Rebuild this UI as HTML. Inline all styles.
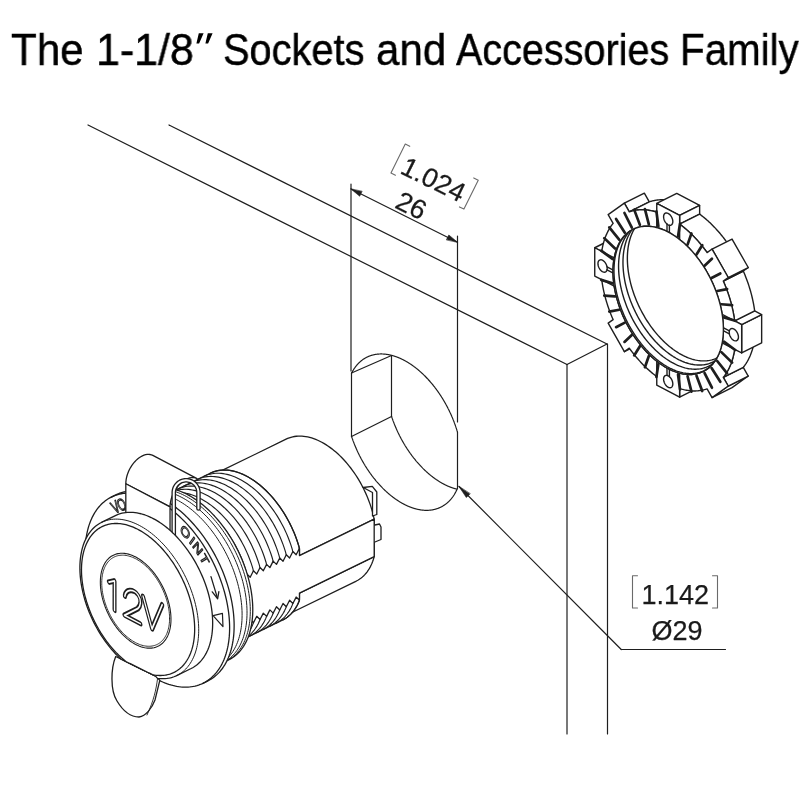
<!DOCTYPE html>
<html><head><meta charset="utf-8"><style>
html,body{margin:0;padding:0;background:#fff;width:800px;height:800px;overflow:hidden}
.tw{position:absolute;top:28px;font-family:"Liberation Sans",sans-serif;font-size:44px;line-height:1;white-space:nowrap;color:#000;-webkit-text-stroke:0.45px #000;transform-origin:0 0;will-change:transform}
svg{position:absolute;left:0;top:0;will-change:transform}
.dim{position:absolute;font-family:"Liberation Sans",sans-serif;color:#1a1a1a;white-space:nowrap;line-height:1}
</style></head><body>
<div class="tw" style="left:11.04px;transform:scaleX(0.958)">The</div><div class="tw" style="left:95.82px;transform:scaleX(0.976)">1-1/8</div><div class="tw" style="left:223.19px;transform:scaleX(0.9046)">Sockets</div><div class="tw" style="left:375.59px;transform:scaleX(0.956)">and</div><div class="tw" style="left:456.25px;transform:scaleX(0.899)">Accessories</div><div class="tw" style="left:680.08px;transform:scaleX(0.917)">Family</div>
<svg width="800" height="800" viewBox="0 0 800 800" stroke-linecap="round" stroke-linejoin="round">
<line x1="88" y1="125" x2="567" y2="364.5" stroke="#1e1e1e" stroke-width="1.2"/>
<line x1="169" y1="125" x2="607" y2="344" stroke="#1e1e1e" stroke-width="1.2"/>
<line x1="567" y1="364.5" x2="607" y2="344" stroke="#1e1e1e" stroke-width="1.2"/>
<line x1="567" y1="364.5" x2="567" y2="734" stroke="#1e1e1e" stroke-width="1.2"/>
<line x1="607.5" y1="344" x2="607.5" y2="734" stroke="#1e1e1e" stroke-width="1.2"/>
<path d="M457.44,488.34 L457.34,488.58 L457.24,488.82 L457.14,489.05 L457.03,489.28 L456.93,489.52 L456.83,489.75 L456.72,489.98 L456.61,490.21 L456.5,490.44 L456.4,490.66 L456.29,490.89 L456.17,491.11 L456.06,491.34 L455.95,491.56 L455.84,491.78 L455.72,492 L455.6,492.22 L455.49,492.44 L455.37,492.65 L455.25,492.87 L455.13,493.09 L455.01,493.3 L454.89,493.51 L454.77,493.72 L454.64,493.93 L454.52,494.14 L454.39,494.35 L454.26,494.55 L454.14,494.76 L454.01,494.96 L453.88,495.17 L453.75,495.37 L453.62,495.57 L453.48,495.77 L453.35,495.96 L453.22,496.16 L453.08,496.36 L452.95,496.55 L452.81,496.74 L452.67,496.94 L452.53,497.13 L452.39,497.31 L452.25,497.5 L452.11,497.69 L451.97,497.88 L451.82,498.06 L451.68,498.24 L451.53,498.42 L451.39,498.6 L451.24,498.78 L451.09,498.96 L450.94,499.14 L450.79,499.31 L450.64,499.49 L450.49,499.66 L450.34,499.83 L450.18,500 L450.03,500.17 L449.87,500.34 L449.72,500.51 L449.56,500.67 L449.4,500.83 L449.24,501 L449.08,501.16 L448.92,501.32 L448.76,501.48 L448.6,501.63 L448.44,501.79 L448.27,501.94 L448.11,502.1 L447.94,502.25 L447.78,502.4 L447.61,502.55 L447.44,502.7 L447.27,502.84 L447.1,502.99 L446.93,503.13 L446.76,503.27 L446.59,503.42 L446.42,503.56 L446.24,503.69 L446.07,503.83 L445.89,503.97 L445.72,504.1 L445.54,504.23 L445.36,504.37 L445.18,504.5 L445,504.62 L444.82,504.75 L444.64,504.88 L444.46,505 L444.28,505.13 L444.09,505.25 L443.91,505.37 L443.73,505.49 L443.54,505.6 L443.35,505.72 L443.17,505.84 L442.98,505.95 L442.79,506.06 L442.6,506.17 L442.41,506.28 L442.22,506.39 L442.03,506.5 L441.84,506.6 L441.64,506.7 L441.45,506.81 L441.26,506.91 L441.06,507.01 L440.86,507.1 L440.67,507.2 L440.47,507.3 L440.27,507.39 L440.07,507.48 L439.87,507.57 L439.67,507.66 L439.47,507.75 L439.27,507.84 L439.07,507.92 L438.87,508 L438.66,508.09 L438.46,508.17 L438.26,508.25 L438.05,508.32 L437.84,508.4 L437.64,508.47 L437.43,508.55 L437.22,508.62 L437.01,508.69 L436.8,508.76 L436.59,508.83 L436.38,508.89 L436.17,508.96 L435.96,509.02 L435.75,509.08 L435.54,509.14 L435.32,509.2 L435.11,509.26 L434.89,509.31 L434.68,509.37 L434.46,509.42 L434.25,509.47 L434.03,509.52 L433.81,509.57 L433.59,509.62 L433.37,509.66 L433.15,509.71 L432.93,509.75 L432.71,509.79 L432.49,509.83 L432.27,509.87 L432.05,509.9 L431.83,509.94 L431.6,509.97 L431.38,510.01 L431.16,510.04 L430.93,510.06 L430.71,510.09 L430.48,510.12 L430.25,510.14 L430.03,510.17 L429.8,510.19 L429.57,510.21 L429.34,510.23 L429.12,510.24 L428.89,510.26 L428.66,510.27 L428.43,510.29 L428.2,510.3 L427.96,510.31 L427.73,510.32 L427.5,510.32 L427.27,510.33 L427.04,510.33 L426.8,510.34 L426.57,510.34 L426.33,510.34 L426.1,510.33 L425.86,510.33 L425.63,510.32 L425.39,510.32 L425.16,510.31 L424.92,510.3 L424.68,510.29 L424.45,510.28 L424.21,510.26 L423.97,510.25 L423.73,510.23 L423.49,510.21 L423.25,510.19 L423.01,510.17 L422.77,510.15 L422.53,510.12 L422.29,510.1 L422.05,510.07 L421.81,510.04 L421.57,510.01 L421.32,509.98 L421.08,509.95 L420.84,509.91 L420.59,509.87 L420.35,509.84 L420.11,509.8 L419.86,509.76 L419.62,509.71 L419.37,509.67 L419.13,509.63 L418.88,509.58 L418.64,509.53 L418.39,509.48 L418.15,509.43 L417.9,509.38 L417.65,509.32 L417.4,509.27 L417.16,509.21 L416.91,509.15 L416.66,509.09 L416.41,509.03 L416.17,508.97 L415.92,508.9 L415.67,508.84 L415.42,508.77 L415.17,508.7 L414.92,508.63 L414.67,508.56 L414.42,508.49 L414.17,508.41 L413.92,508.34 L413.67,508.26 L413.42,508.18 L413.17,508.1 L412.92,508.02 L412.67,507.93 L412.42,507.85 L412.16,507.76 L411.91,507.68 L411.66,507.59 L411.41,507.5 L411.16,507.4 L410.91,507.31 L410.65,507.22 L410.4,507.12 L410.15,507.02 L409.89,506.92 L409.64,506.82 L409.39,506.72 L409.14,506.62 L408.88,506.51 L408.63,506.41 L408.38,506.3 L408.12,506.19 L407.87,506.08 L407.62,505.97 L407.36,505.86 L407.11,505.74 L406.85,505.62 L406.6,505.51 L406.35,505.39 L406.09,505.27 L405.84,505.15 L405.59,505.02 L405.33,504.9 L405.08,504.77 L404.82,504.65 L404.57,504.52 L404.31,504.39 L404.06,504.26 L403.81,504.12 L403.55,503.99 L403.3,503.85 L403.04,503.72 L402.79,503.58 L402.54,503.44 L402.28,503.3 L402.03,503.16 L401.77,503.01 L401.52,502.87 L401.27,502.72 L401.01,502.57 L400.76,502.43 L400.5,502.28 L400.25,502.12 L400,501.97 L399.74,501.82 L399.49,501.66 L399.24,501.5 L398.98,501.35 L398.73,501.19 L398.48,501.02 L398.22,500.86 L397.97,500.7 L397.72,500.53 L397.47,500.37 L397.21,500.2 L396.96,500.03 L396.71,499.86 L396.46,499.69 L396.2,499.52 L395.95,499.34 L395.7,499.17 L395.45,498.99 L395.2,498.81 L394.95,498.64 L394.7,498.46 L394.45,498.27 L394.19,498.09 L393.94,497.91 L393.69,497.72 L393.44,497.53 L393.19,497.35 L392.94,497.16 L392.69,496.97 L392.45,496.78 L392.2,496.58 L391.95,496.39 L391.7,496.19 L391.45,496 L391.2,495.8 L390.95,495.6 L390.71,495.4 L390.46,495.2 L390.21,495 L389.96,494.79 L389.72,494.59 L389.47,494.38 L389.23,494.18 L388.98,493.97 L388.73,493.76 L388.49,493.55 L388.24,493.33 L388,493.12 L387.76,492.91 L387.51,492.69 L387.27,492.48 L387.02,492.26 L386.78,492.04 L386.54,491.82 L386.3,491.6 L386.05,491.37 L385.81,491.15 L385.57,490.93 L385.33,490.7 L385.09,490.47 L384.85,490.25 L384.61,490.02 L384.37,489.79 L384.13,489.56 L383.89,489.32 L383.65,489.09 L383.41,488.86 L383.18,488.62 L382.94,488.38 L382.7,488.15 L382.47,487.91 L382.23,487.67 L381.99,487.43 L381.76,487.18 L381.52,486.94 L381.29,486.7 L381.05,486.45 L380.82,486.21 L380.59,485.96 L380.36,485.71 L380.12,485.46 L379.89,485.21 L379.66,484.96 L379.43,484.71 L379.2,484.45 L378.97,484.2 L378.74,483.95 L378.51,483.69 L378.28,483.43 L378.05,483.17 L377.83,482.91 L377.6,482.65 L377.37,482.39 L377.15,482.13 L376.92,481.87 L376.7,481.6 L376.47,481.34 L376.25,481.07 L376.02,480.81 L375.8,480.54 L375.58,480.27 L375.36,480 L375.14,479.73 L374.92,479.46 L374.7,479.19 L374.48,478.91 L374.26,478.64 L374.04,478.36 L373.82,478.09 L373.6,477.81 L373.39,477.53 L373.17,477.26 L372.95,476.98 L372.74,476.7 L372.52,476.42 L372.31,476.13 L372.1,475.85 L371.88,475.57 L371.67,475.28 L371.46,475 L371.25,474.71 L371.04,474.43 L370.83,474.14 L370.62,473.85 L370.41,473.56 L370.21,473.27 L370,472.98 L369.79,472.69 L369.59,472.4 L369.38,472.1 L369.18,471.81 L368.97,471.51 L368.77,471.22 L368.57,470.92 L368.37,470.63 L368.17,470.33 L367.97,470.03 L367.77,469.73 L367.57,469.43 L367.37,469.13 L367.17,468.83 L366.97,468.53 L366.78,468.23 L366.58,467.92 L366.39,467.62 L366.19,467.31 L366,467.01 L365.81,466.7 L365.62,466.4 L365.42,466.09 L365.23,465.78 L365.04,465.47 L364.86,465.16 L364.67,464.85 L364.48,464.54 L364.29,464.23 L364.11,463.92 L363.92,463.61 L363.74,463.3 L363.55,462.98 L363.37,462.67 L363.19,462.35 L363.01,462.04 L362.83,461.72 L362.65,461.41 L362.47,461.09 L362.29,460.77 L362.11,460.45 L361.94,460.14 L361.76,459.82 L361.58,459.5 L361.41,459.18 L361.24,458.86 L361.06,458.54 L360.89,458.21 L360.72,457.89 L360.55,457.57 L360.38,457.25 L360.21,456.92 L360.05,456.6 L359.88,456.27 L359.71,455.95 L359.55,455.62 L359.38,455.3 L359.22,454.97 L359.06,454.64 L358.9,454.32 L358.74,453.99 L358.58,453.66 L358.42,453.33 L358.26,453 L358.1,452.68 L357.94,452.35 L357.79,452.02 L357.63,451.69 L357.48,451.35 L357.33,451.02 L357.17,450.69 L357.02,450.36 L356.87,450.03 L356.72,449.7 L356.57,449.36 L356.43,449.03 L356.28,448.7 L356.13,448.36 L355.99,448.03 L355.85,447.69 L355.7,447.36 L355.56,447.02 L355.42,446.69 L355.28,446.35 L355.14,446.02 L355,445.68 L354.86,445.34 L354.73,445.01 L354.59,444.67 L354.46,444.33 L354.32,444 L354.19,443.66 L354.06,443.32 L353.93,442.98 L353.8,442.65 L353.67,442.31 L353.54,441.97 L353.41,441.63 L353.29,441.29 L353.16,440.95 L353.04,440.61 L352.91,440.27 L352.79,439.93 L352.67,439.59 L352.55,439.25 L352.43,438.91 L352.31,438.57 L352.19,438.23 L352.08,437.89 L351.96,437.55 L351.85,437.21 L351.73,436.87 L351.62,436.53 L351.51,436.19" fill="none" stroke="#1e1e1e" stroke-width="1.2" />
<path d="M351.51,373.3 L351.62,373.07 L351.73,372.85 L351.85,372.63 L351.96,372.41 L352.08,372.19 L352.19,371.97 L352.31,371.75 L352.43,371.54 L352.55,371.32 L352.67,371.11 L352.79,370.9 L352.91,370.68 L353.04,370.47 L353.16,370.26 L353.29,370.06 L353.41,369.85 L353.54,369.64 L353.67,369.44 L353.8,369.24 L353.93,369.03 L354.06,368.83 L354.19,368.63 L354.32,368.43 L354.46,368.24 L354.59,368.04 L354.73,367.85 L354.86,367.65 L355,367.46 L355.14,367.27 L355.28,367.08 L355.42,366.89 L355.56,366.7 L355.7,366.52 L355.85,366.33 L355.99,366.15 L356.13,365.97 L356.28,365.79 L356.43,365.61 L356.57,365.43 L356.72,365.25 L356.87,365.07 L357.02,364.9 L357.17,364.73 L357.33,364.55 L357.48,364.38 L357.63,364.21 L357.79,364.04 L357.94,363.88 L358.1,363.71 L358.26,363.55 L358.42,363.38 L358.58,363.22 L358.74,363.06 L358.9,362.9 L359.06,362.74 L359.22,362.59 L359.38,362.43 L359.55,362.28 L359.71,362.13 L359.88,361.98 L360.05,361.83 L360.21,361.68 L360.38,361.53 L360.55,361.38 L360.72,361.24 L360.89,361.1 L361.06,360.95 L361.24,360.81 L361.41,360.68 L361.58,360.54 L361.76,360.4 L361.94,360.27 L362.11,360.13 L362.29,360 L362.47,359.87 L362.65,359.74 L362.83,359.61 L363.01,359.49 L363.19,359.36 L363.37,359.24 L363.55,359.11 L363.74,358.99 L363.92,358.87 L364.11,358.75 L364.29,358.64 L364.48,358.52 L364.67,358.41 L364.86,358.29 L365.04,358.18 L365.23,358.07 L365.42,357.96 L365.62,357.86 L365.81,357.75 L366,357.65 L366.19,357.54 L366.39,357.44 L366.58,357.34 L366.78,357.24 L366.97,357.15 L367.17,357.05 L367.37,356.96 L367.57,356.86 L367.77,356.77 L367.97,356.68 L368.17,356.59 L368.37,356.51 L368.57,356.42 L368.77,356.34 L368.97,356.26 L369.18,356.17 L369.38,356.09 L369.59,356.02 L369.79,355.94 L370,355.86 L370.21,355.79 L370.41,355.72 L370.62,355.65 L370.83,355.58 L371.04,355.51 L371.25,355.44 L371.46,355.38 L371.67,355.31 L371.88,355.25 L372.1,355.19 L372.31,355.13 L372.52,355.07 L372.74,355.01 L372.95,354.96 L373.17,354.91 L373.39,354.85 L373.6,354.8 L373.82,354.75 L374.04,354.71 L374.26,354.66 L374.48,354.62 L374.7,354.57 L374.92,354.53 L375.14,354.49 L375.36,354.45 L375.58,354.41 L375.8,354.38 L376.02,354.34 L376.25,354.31 L376.47,354.28 L376.7,354.25 L376.92,354.22 L377.15,354.19 L377.37,354.17 L377.6,354.14 L377.83,354.12 L378.05,354.1 L378.28,354.08 L378.51,354.06 L378.74,354.05 L378.97,354.03 L379.2,354.02 L379.43,354.01 L379.66,354 L379.89,353.99 L380.12,353.98 L380.36,353.97 L380.59,353.97 L380.82,353.97 L381.05,353.96 L381.29,353.96 L381.52,353.97 L381.76,353.97 L381.99,353.97 L382.23,353.98 L382.47,353.99 L382.7,353.99 L382.94,354 L383.18,354.02 L383.41,354.03 L383.65,354.04 L383.89,354.06 L384.13,354.08 L384.37,354.1 L384.61,354.12 L384.85,354.14 L385.09,354.16 L385.33,354.19 L385.57,354.22 L385.81,354.24 L386.05,354.27 L386.3,354.31 L386.54,354.34 L386.78,354.37 L387.02,354.41 L387.27,354.44 L387.51,354.48 L387.76,354.52 L388,354.56 L388.24,354.61 L388.49,354.65 L388.73,354.7 L388.98,354.75 L389.23,354.79 L389.47,354.84 L389.72,354.9 L389.96,354.95 L390.21,355 L390.46,355.06 L390.71,355.12 L390.95,355.18 L391.2,355.24 L391.45,355.3 L391.7,355.36 L391.95,355.43 L392.2,355.5 L392.45,355.56 L392.69,355.63 L392.94,355.7 L393.19,355.78 L393.44,355.85 L393.69,355.93 L393.94,356 L394.19,356.08 L394.45,356.16 L394.7,356.24 L394.95,356.32 L395.2,356.41 L395.45,356.49 L395.7,356.58 L395.95,356.67 L396.2,356.76 L396.46,356.85 L396.71,356.94 L396.96,357.04 L397.21,357.13 L397.47,357.23 L397.72,357.33 L397.97,357.43 L398.22,357.53 L398.48,357.63 L398.73,357.73 L398.98,357.84 L399.24,357.95 L399.49,358.05 L399.74,358.16 L400,358.28 L400.25,358.39 L400.5,358.5 L400.76,358.62 L401.01,358.73 L401.27,358.85 L401.52,358.97 L401.77,359.09 L402.03,359.21 L402.28,359.34 L402.54,359.46 L402.79,359.59 L403.04,359.72 L403.3,359.85 L403.55,359.98 L403.81,360.11 L404.06,360.24 L404.31,360.38 L404.57,360.51 L404.82,360.65 L405.08,360.79 L405.33,360.93 L405.59,361.07 L405.84,361.21 L406.09,361.36 L406.35,361.5 L406.6,361.65 L406.85,361.8 L407.11,361.95 L407.36,362.1 L407.62,362.25 L407.87,362.41 L408.12,362.56 L408.38,362.72 L408.63,362.88 L408.88,363.03 L409.14,363.19 L409.39,363.36 L409.64,363.52 L409.89,363.68 L410.15,363.85 L410.4,364.02 L410.65,364.18 L410.91,364.35 L411.16,364.52 L411.41,364.7 L411.66,364.87 L411.91,365.04 L412.16,365.22 L412.42,365.4 L412.67,365.57 L412.92,365.75 L413.17,365.94 L413.42,366.12 L413.67,366.3 L413.92,366.49 L414.17,366.67 L414.42,366.86 L414.67,367.05 L414.92,367.24 L415.17,367.43 L415.42,367.62 L415.67,367.81 L415.92,368.01 L416.17,368.2 L416.41,368.4 L416.66,368.6 L416.91,368.8 L417.16,369 L417.4,369.2 L417.65,369.4 L417.9,369.61 L418.15,369.81 L418.39,370.02 L418.64,370.23 L418.88,370.44 L419.13,370.65 L419.37,370.86 L419.62,371.07 L419.86,371.29 L420.11,371.5 L420.35,371.72 L420.59,371.93 L420.84,372.15 L421.08,372.37 L421.32,372.59 L421.57,372.81 L421.81,373.04 L422.05,373.26 L422.29,373.49 L422.53,373.71 L422.77,373.94 L423.01,374.17 L423.25,374.4 L423.49,374.63 L423.73,374.86 L423.97,375.09 L424.21,375.33 L424.45,375.56 L424.68,375.8 L424.92,376.03 L425.16,376.27 L425.39,376.51 L425.63,376.75 L425.86,376.99 L426.1,377.24 L426.33,377.48 L426.57,377.73 L426.8,377.97 L427.04,378.22 L427.27,378.46 L427.5,378.71 L427.73,378.96 L427.96,379.21 L428.2,379.47 L428.43,379.72 L428.66,379.97 L428.89,380.23 L429.12,380.48 L429.34,380.74 L429.57,381 L429.8,381.26 L430.03,381.52 L430.25,381.78 L430.48,382.04 L430.71,382.3 L430.93,382.56 L431.16,382.83 L431.38,383.09 L431.6,383.36 L431.83,383.63 L432.05,383.9 L432.27,384.16 L432.49,384.43 L432.71,384.71 L432.93,384.98 L433.15,385.25 L433.37,385.52 L433.59,385.8 L433.81,386.07 L434.03,386.35 L434.25,386.63 L434.46,386.9 L434.68,387.18 L434.89,387.46 L435.11,387.74 L435.32,388.02 L435.54,388.31 L435.75,388.59 L435.96,388.87 L436.17,389.16 L436.38,389.44 L436.59,389.73 L436.8,390.02 L437.01,390.31 L437.22,390.59 L437.43,390.88 L437.64,391.17 L437.84,391.47 L438.05,391.76 L438.26,392.05 L438.46,392.34 L438.66,392.64 L438.87,392.93 L439.07,393.23 L439.27,393.53 L439.47,393.82 L439.67,394.12 L439.87,394.42 L440.07,394.72 L440.27,395.02 L440.47,395.32 L440.67,395.62 L440.86,395.92 L441.06,396.23 L441.26,396.53 L441.45,396.83 L441.64,397.14 L441.84,397.44 L442.03,397.75 L442.22,398.06 L442.41,398.36 L442.6,398.67 L442.79,398.98 L442.98,399.29 L443.17,399.6 L443.35,399.91 L443.54,400.22 L443.73,400.54 L443.91,400.85 L444.09,401.16 L444.28,401.47 L444.46,401.79 L444.64,402.1 L444.82,402.42 L445,402.74 L445.18,403.05 L445.36,403.37 L445.54,403.69 L445.72,404.01 L445.89,404.32 L446.07,404.64 L446.24,404.96 L446.42,405.28 L446.59,405.6 L446.76,405.93 L446.93,406.25 L447.1,406.57 L447.27,406.89 L447.44,407.22 L447.61,407.54 L447.78,407.86 L447.94,408.19 L448.11,408.51 L448.27,408.84 L448.44,409.17 L448.6,409.49 L448.76,409.82 L448.92,410.15 L449.08,410.47 L449.24,410.8 L449.4,411.13 L449.56,411.46 L449.72,411.79 L449.87,412.12 L450.03,412.45 L450.18,412.78 L450.34,413.11 L450.49,413.44 L450.64,413.77 L450.79,414.11 L450.94,414.44 L451.09,414.77 L451.24,415.1 L451.39,415.44 L451.53,415.77 L451.68,416.11 L451.82,416.44 L451.97,416.77 L452.11,417.11 L452.25,417.44 L452.39,417.78 L452.53,418.12 L452.67,418.45 L452.81,418.79 L452.95,419.12 L453.08,419.46 L453.22,419.8 L453.35,420.13 L453.48,420.47 L453.62,420.81 L453.75,421.15 L453.88,421.49 L454.01,421.82 L454.14,422.16 L454.26,422.5 L454.39,422.84 L454.52,423.18 L454.64,423.52 L454.77,423.86 L454.89,424.2 L455.01,424.54 L455.13,424.88 L455.25,425.22 L455.37,425.56 L455.49,425.9 L455.6,426.24 L455.72,426.58 L455.84,426.92 L455.95,427.26 L456.06,427.6 L456.17,427.94 L456.29,428.28 L456.4,428.62 L456.5,428.96 L456.61,429.31 L456.72,429.65 L456.83,429.99 L456.93,430.33 L457.03,430.67 L457.14,431.01 L457.24,431.35 L457.34,431.69 L457.44,432.04" fill="none" stroke="#1e1e1e" stroke-width="1.2" />
<line x1="351.5" y1="373.07" x2="351.5" y2="436.53" stroke="#1e1e1e" stroke-width="1.2"/>
<line x1="457.5" y1="432.04" x2="457.5" y2="488.34" stroke="#1e1e1e" stroke-width="1.2"/>
<line x1="391.5" y1="355.57" x2="391.5" y2="416.53" stroke="#1e1e1e" stroke-width="1.2"/>
<line x1="351.5" y1="373.07" x2="391.5" y2="355.57" stroke="#1e1e1e" stroke-width="1.2"/>
<line x1="351.5" y1="436.53" x2="391.5" y2="416.53" stroke="#1e1e1e" stroke-width="1.2"/>
<path d="M391.51,416.19 L391.62,416.53 L391.73,416.87 L391.85,417.21 L391.96,417.55 L392.08,417.89 L392.19,418.23 L392.31,418.57 L392.43,418.91 L392.55,419.25 L392.67,419.59 L392.79,419.93 L392.91,420.27 L393.04,420.61 L393.16,420.95 L393.29,421.29 L393.41,421.63 L393.54,421.97 L393.67,422.31 L393.8,422.65 L393.93,422.98 L394.06,423.32 L394.19,423.66 L394.32,424 L394.46,424.33 L394.59,424.67 L394.73,425.01 L394.86,425.34 L395,425.68 L395.14,426.02 L395.28,426.35 L395.42,426.69 L395.56,427.02 L395.7,427.36 L395.85,427.69 L395.99,428.03 L396.13,428.36 L396.28,428.7 L396.43,429.03 L396.57,429.36 L396.72,429.7 L396.87,430.03 L397.02,430.36 L397.17,430.69 L397.33,431.02 L397.48,431.35 L397.63,431.69 L397.79,432.02 L397.94,432.35 L398.1,432.68 L398.26,433 L398.42,433.33 L398.58,433.66 L398.74,433.99 L398.9,434.32 L399.06,434.64 L399.22,434.97 L399.38,435.3 L399.55,435.62 L399.71,435.95 L399.88,436.27 L400.05,436.6 L400.21,436.92 L400.38,437.25 L400.55,437.57 L400.72,437.89 L400.89,438.21 L401.06,438.54 L401.24,438.86 L401.41,439.18 L401.58,439.5 L401.76,439.82 L401.94,440.14 L402.11,440.45 L402.29,440.77 L402.47,441.09 L402.65,441.41 L402.83,441.72 L403.01,442.04 L403.19,442.35 L403.37,442.67 L403.55,442.98 L403.74,443.3 L403.92,443.61 L404.11,443.92 L404.29,444.23 L404.48,444.54 L404.67,444.85 L404.86,445.16 L405.04,445.47 L405.23,445.78 L405.42,446.09 L405.62,446.4 L405.81,446.7 L406,447.01 L406.19,447.31 L406.39,447.62 L406.58,447.92 L406.78,448.23 L406.97,448.53 L407.17,448.83 L407.37,449.13 L407.57,449.43 L407.77,449.73 L407.97,450.03 L408.17,450.33 L408.37,450.63 L408.57,450.92 L408.77,451.22 L408.97,451.51 L409.18,451.81 L409.38,452.1 L409.59,452.4 L409.79,452.69 L410,452.98 L410.21,453.27 L410.41,453.56 L410.62,453.85 L410.83,454.14 L411.04,454.43 L411.25,454.71 L411.46,455 L411.67,455.28 L411.88,455.57 L412.1,455.85 L412.31,456.13 L412.52,456.42 L412.74,456.7 L412.95,456.98 L413.17,457.26 L413.39,457.53 L413.6,457.81 L413.82,458.09 L414.04,458.36 L414.26,458.64 L414.48,458.91 L414.7,459.19 L414.92,459.46 L415.14,459.73 L415.36,460 L415.58,460.27 L415.8,460.54 L416.02,460.81 L416.25,461.07 L416.47,461.34 L416.7,461.6 L416.92,461.87 L417.15,462.13 L417.37,462.39 L417.6,462.65 L417.83,462.91 L418.05,463.17 L418.28,463.43 L418.51,463.69 L418.74,463.95 L418.97,464.2 L419.2,464.45 L419.43,464.71 L419.66,464.96 L419.89,465.21 L420.12,465.46 L420.36,465.71 L420.59,465.96 L420.82,466.21 L421.05,466.45 L421.29,466.7 L421.52,466.94 L421.76,467.18 L421.99,467.43 L422.23,467.67 L422.47,467.91 L422.7,468.15 L422.94,468.38 L423.18,468.62 L423.41,468.86 L423.65,469.09 L423.89,469.32 L424.13,469.56 L424.37,469.79 L424.61,470.02 L424.85,470.25 L425.09,470.47 L425.33,470.7 L425.57,470.93 L425.81,471.15 L426.05,471.37 L426.3,471.6 L426.54,471.82 L426.78,472.04 L427.02,472.26 L427.27,472.48 L427.51,472.69 L427.76,472.91 L428,473.12 L428.24,473.33 L428.49,473.55 L428.73,473.76 L428.98,473.97 L429.23,474.18 L429.47,474.38 L429.72,474.59 L429.96,474.79 L430.21,475 L430.46,475.2 L430.71,475.4 L430.95,475.6 L431.2,475.8 L431.45,476 L431.7,476.19 L431.95,476.39 L432.2,476.58 L432.45,476.78 L432.69,476.97 L432.94,477.16 L433.19,477.35 L433.44,477.53 L433.69,477.72 L433.94,477.91 L434.19,478.09 L434.45,478.27 L434.7,478.46 L434.95,478.64 L435.2,478.81 L435.45,478.99 L435.7,479.17 L435.95,479.34 L436.2,479.52 L436.46,479.69 L436.71,479.86 L436.96,480.03 L437.21,480.2 L437.47,480.37 L437.72,480.53 L437.97,480.7 L438.22,480.86 L438.48,481.02 L438.73,481.19 L438.98,481.35 L439.24,481.5 L439.49,481.66 L439.74,481.82 L440,481.97 L440.25,482.12 L440.5,482.28 L440.76,482.43 L441.01,482.57 L441.27,482.72 L441.52,482.87 L441.77,483.01 L442.03,483.16 L442.28,483.3 L442.54,483.44 L442.79,483.58 L443.04,483.72 L443.3,483.85 L443.55,483.99 L443.81,484.12 L444.06,484.26 L444.31,484.39 L444.57,484.52 L444.82,484.65 L445.08,484.77 L445.33,484.9 L445.59,485.02 L445.84,485.15 L446.09,485.27 L446.35,485.39 L446.6,485.51 L446.85,485.62 L447.11,485.74 L447.36,485.86 L447.62,485.97 L447.87,486.08 L448.12,486.19 L448.38,486.3 L448.63,486.41 L448.88,486.51 L449.14,486.62 L449.39,486.72 L449.64,486.82 L449.89,486.92 L450.15,487.02 L450.4,487.12 L450.65,487.22 L450.91,487.31 L451.16,487.4 L451.41,487.5 L451.66,487.59 L451.91,487.68 L452.16,487.76 L452.42,487.85 L452.67,487.93 L452.92,488.02 L453.17,488.1 L453.42,488.18 L453.67,488.26 L453.92,488.34 L454.17,488.41 L454.42,488.49 L454.67,488.56 L454.92,488.63 L455.17,488.7 L455.42,488.77 L455.67,488.84 L455.92,488.9 L456.17,488.97 L456.41,489.03 L456.66,489.09 L456.91,489.15" fill="none" stroke="#1e1e1e" stroke-width="1.2" />
<line x1="351" y1="184" x2="351" y2="371" stroke="#1e1e1e" stroke-width="1.2"/>
<line x1="457.5" y1="236" x2="457.5" y2="422" stroke="#1e1e1e" stroke-width="1.2"/>
<line x1="351" y1="189" x2="457.5" y2="242.2" stroke="#1e1e1e" stroke-width="1.2"/>
<path d="M351,189 L359.68,196.24 L362,191.59 Z" fill="#1e1e1e" stroke="#1e1e1e" stroke-width="0.6" />
<path d="M457.5,242.2 L448.82,234.96 L446.5,239.61 Z" fill="#1e1e1e" stroke="#1e1e1e" stroke-width="0.6" />
<line x1="459" y1="486.5" x2="621.25" y2="649.5" stroke="#1e1e1e" stroke-width="1.2"/>
<line x1="621.25" y1="649.5" x2="725.5" y2="649.5" stroke="#1e1e1e" stroke-width="1.2"/>
<path d="M459,486.5 L466.33,497.55 L470.01,493.88 Z" fill="#1e1e1e" stroke="#1e1e1e" stroke-width="0.6" />
<g transform="translate(675,591.9)"><path d="M-37.5,-16.15 L-42.5,-16.15 L-42.5,16.15 L-37.5,16.15" fill="none" stroke="#6a6a6a" stroke-width="1.1"/>
<path d="M37.5,-16.15 L42.5,-16.15 L42.5,16.15 L37.5,16.15" fill="none" stroke="#6a6a6a" stroke-width="1.1"/>
<text x="-33.6" y="12.2" font-family="Liberation Sans" font-size="27" fill="#1a1a1a" stroke="#1a1a1a" stroke-width="0.25">1.142</text>
<text x="-23.5" y="48.6" font-family="Liberation Sans" font-size="27" fill="#1a1a1a" stroke="#1a1a1a" stroke-width="0.25">Ø29</text></g>
<g transform="translate(434.6,176.6) rotate(26.3)"><path d="M-35.7,-16.15 L-40.7,-16.15 L-40.7,16.15 L-35.7,16.15" fill="none" stroke="#6a6a6a" stroke-width="1.1"/>
<path d="M35.7,-16.15 L40.7,-16.15 L40.7,16.15 L35.7,16.15" fill="none" stroke="#6a6a6a" stroke-width="1.1"/>
<text x="-33.6" y="12.2" font-family="Liberation Sans" font-size="27" fill="#1a1a1a" stroke="#1a1a1a" stroke-width="0.25">1.024</text>
<text x="-23" y="45.5" font-family="Liberation Sans" font-size="27" fill="#1a1a1a" stroke="#1a1a1a" stroke-width="0.25">26</text></g>
<path d="M629.3,348.13 L624.35,351.67 L644.34,341.67 L649.29,338.13 Z" fill="#fff" stroke="#1e1e1e" stroke-width="1.4" />
<path d="M601.74,251.41 L594.74,247.75 L614.74,237.75 L621.74,241.41 Z" fill="#fff" stroke="#1e1e1e" stroke-width="1.4" />
<path d="M679.64,388.56 L679.64,397.22 L699.64,387.22 L699.64,378.56 Z" fill="#fff" stroke="#1e1e1e" stroke-width="1.4" />
<path d="M629.3,211.84 L624.35,203.13 L644.34,193.13 L649.29,201.84 Z" fill="#fff" stroke="#1e1e1e" stroke-width="1.4" />
<path d="M728.23,386.02 L712.05,397.57 L732.05,387.57 L748.23,376.03 Z" fill="#fff" stroke="#1e1e1e" stroke-width="1.4" />
<path d="M723.28,377.31 L728.23,386.02 L748.23,376.03 L743.28,367.31 Z" fill="#fff" stroke="#1e1e1e" stroke-width="1.4" />
<path d="M629.3,211.84 L629.93,211.63 L630.56,211.42 L631.2,211.23 L631.85,211.05 L632.5,210.89 L633.15,210.73 L633.81,210.58 L634.47,210.45 L635.14,210.33 L635.81,210.22 L636.49,210.12 L637.17,210.04 L637.85,209.96 L638.54,209.9 L639.23,209.85 L639.93,209.81 L640.63,209.78 L641.33,209.77 L642.04,209.76 L642.75,209.77 L643.46,209.79 L644.18,209.82 L644.9,209.86 L645.62,209.92 L646.35,209.99 L647.08,210.06 L647.81,210.15 L648.54,210.26 L649.28,210.37 L650.02,210.49 L650.76,210.63 L651.5,210.78 L652.25,210.94 L652.99,211.11 L653.74,211.29 L654.5,211.49 L655.25,211.7 L656,211.91 L656.76,212.14 L676.76,202.14 L676,201.92 L675.24,201.7 L674.49,201.49 L673.74,201.3 L672.99,201.11 L672.24,200.94 L671.5,200.78 L670.75,200.63 L670.01,200.5 L669.27,200.37 L668.54,200.26 L667.8,200.16 L667.07,200.07 L666.34,199.99 L665.62,199.92 L664.89,199.87 L664.18,199.82 L663.46,199.79 L662.75,199.77 L662.04,199.76 L661.33,199.77 L660.63,199.78 L659.93,199.81 L659.23,199.85 L658.54,199.9 L657.85,199.96 L657.17,200.04 L656.49,200.12 L655.81,200.22 L655.14,200.33 L654.47,200.45 L653.81,200.59 L653.15,200.73 L652.49,200.89 L651.84,201.06 L651.2,201.24 L650.56,201.43 L649.92,201.63 L649.29,201.84 Z" fill="#fff" stroke="#1e1e1e" stroke-width="1.4" />
<path d="M734.66,349.29 L734.52,350.15 L734.38,351.01 L734.23,351.87 L734.07,352.71 L733.9,353.55 L733.72,354.38 L733.53,355.21 L733.34,356.03 L733.14,356.84 L732.93,357.64 L732.71,358.44 L732.48,359.22 L732.24,360 L732,360.78 L731.74,361.54 L731.48,362.3 L731.21,363.05 L730.93,363.79 L730.65,364.52 L730.35,365.25 L730.05,365.96 L729.74,366.67 L729.42,367.37 L729.1,368.06 L728.76,368.74 L728.42,369.41 L728.07,370.08 L727.71,370.73 L727.35,371.38 L726.98,372.01 L726.6,372.64 L726.21,373.26 L725.81,373.87 L725.41,374.46 L725,375.05 L724.58,375.63 L724.15,376.2 L723.72,376.76 L723.28,377.31 L743.28,367.31 L743.72,366.76 L744.15,366.2 L744.58,365.63 L744.99,365.06 L745.4,364.47 L745.81,363.87 L746.2,363.26 L746.59,362.64 L746.97,362.02 L747.34,361.38 L747.71,360.73 L748.07,360.08 L748.42,359.42 L748.76,358.74 L749.09,358.06 L749.42,357.37 L749.74,356.67 L750.05,355.97 L750.35,355.25 L750.64,354.53 L750.93,353.79 L751.21,353.05 L751.48,352.3 L751.74,351.55 L751.99,350.78 L752.24,350.01 L752.47,349.23 L752.7,348.44 L752.92,347.64 L753.13,346.84 L753.34,346.03 L753.53,345.21 L753.72,344.38 L753.89,343.55 L754.06,342.71 L754.22,341.87 L754.38,341.01 L754.52,340.16 L754.65,339.29 Z" fill="#fff" stroke="#1e1e1e" stroke-width="1.4" />
<path d="M656.76,203.48 L679.64,215.46 L699.64,205.46 L676.76,193.49 Z" fill="#fff" stroke="#1e1e1e" stroke-width="1.4" />
<path d="M679.64,224.12 L679.64,215.46 L699.64,205.46 L699.64,214.12 Z" fill="#fff" stroke="#1e1e1e" stroke-width="1.4" />
<path d="M741.66,324.65 L741.66,352.95 L761.65,342.95 L761.65,314.65 Z" fill="#fff" stroke="#1e1e1e" stroke-width="1.4" />
<path d="M679.64,224.12 L680.4,224.68 L681.15,225.25 L681.9,225.84 L682.66,226.43 L683.41,227.03 L684.15,227.64 L684.9,228.26 L685.64,228.89 L686.38,229.53 L687.12,230.18 L687.86,230.84 L688.59,231.5 L689.32,232.18 L690.05,232.86 L690.78,233.55 L691.5,234.26 L692.22,234.97 L692.94,235.69 L693.65,236.41 L694.36,237.15 L695.07,237.89 L695.77,238.64 L696.47,239.4 L697.17,240.17 L697.86,240.95 L698.55,241.73 L699.23,242.52 L699.91,243.32 L700.59,244.13 L701.26,244.94 L701.93,245.76 L702.59,246.59 L703.25,247.42 L703.9,248.26 L704.55,249.11 L705.2,249.96 L705.84,250.83 L706.47,251.69 L707.1,252.57 L727.1,242.57 L726.47,241.69 L725.83,240.83 L725.19,239.97 L724.55,239.11 L723.9,238.26 L723.25,237.42 L722.59,236.59 L721.92,235.76 L721.26,234.94 L720.58,234.13 L719.91,233.32 L719.23,232.52 L718.54,231.73 L717.85,230.95 L717.16,230.17 L716.47,229.41 L715.77,228.65 L715.06,227.89 L714.36,227.15 L713.65,226.41 L712.93,225.69 L712.22,224.97 L711.5,224.26 L710.77,223.56 L710.05,222.86 L709.32,222.18 L708.59,221.5 L707.86,220.84 L707.12,220.18 L706.38,219.53 L705.64,218.89 L704.9,218.26 L704.15,217.64 L703.4,217.03 L702.65,216.43 L701.9,215.84 L701.15,215.26 L700.39,214.68 L699.64,214.12 Z" fill="#fff" stroke="#1e1e1e" stroke-width="1.4" />
<path d="M734.66,320.98 L741.66,324.65 L761.65,314.65 L754.65,310.98 Z" fill="#fff" stroke="#1e1e1e" stroke-width="1.4" />
<path d="M723.28,281.05 L723.72,282.06 L724.15,283.07 L724.58,284.09 L725,285.1 L725.41,286.12 L725.81,287.14 L726.21,288.17 L726.6,289.19 L726.98,290.21 L727.35,291.24 L727.71,292.27 L728.07,293.3 L728.42,294.33 L728.76,295.36 L729.1,296.39 L729.42,297.42 L729.74,298.45 L730.05,299.48 L730.35,300.52 L730.65,301.55 L730.93,302.58 L731.21,303.61 L731.48,304.64 L731.74,305.68 L732,306.71 L732.24,307.74 L732.48,308.76 L732.71,309.79 L732.93,310.82 L733.14,311.84 L733.34,312.87 L733.53,313.89 L733.72,314.91 L733.9,315.93 L734.07,316.94 L734.23,317.95 L734.38,318.97 L734.52,319.98 L734.66,320.98 L754.65,310.98 L754.52,309.98 L754.38,308.97 L754.22,307.96 L754.06,306.94 L753.89,305.93 L753.72,304.91 L753.53,303.89 L753.34,302.87 L753.13,301.84 L752.92,300.82 L752.7,299.79 L752.47,298.77 L752.24,297.74 L751.99,296.71 L751.74,295.68 L751.48,294.65 L751.21,293.62 L750.93,292.58 L750.64,291.55 L750.35,290.52 L750.05,289.49 L749.74,288.45 L749.42,287.42 L749.09,286.39 L748.76,285.36 L748.42,284.33 L748.07,283.3 L747.71,282.27 L747.34,281.24 L746.97,280.22 L746.59,279.19 L746.2,278.17 L745.81,277.15 L745.4,276.12 L744.99,275.11 L744.58,274.09 L744.15,273.07 L743.72,272.06 L743.28,271.05 Z" fill="#fff" stroke="#1e1e1e" stroke-width="1.4" />
<path d="M723.28,281.05 L728.23,277.52 L748.23,267.52 L743.28,271.05 Z" fill="#fff" stroke="#1e1e1e" stroke-width="1.4" />
<path d="M712.05,249.03 L728.23,277.52 L748.23,267.52 L732.05,239.04 Z" fill="#fff" stroke="#1e1e1e" stroke-width="1.4" />
<path d="M734.66,320.98 L741.66,324.65 L741.66,352.95 L734.66,349.29 L734.47,350.45 L734.28,351.6 L734.06,352.74 L733.83,353.87 L733.59,354.98 L733.33,356.08 L733.05,357.17 L732.76,358.24 L732.45,359.31 L732.13,360.35 L731.8,361.39 L731.44,362.4 L731.08,363.41 L730.7,364.4 L730.3,365.37 L729.89,366.33 L729.47,367.27 L729.03,368.2 L728.58,369.11 L728.11,370.01 L727.63,370.89 L727.13,371.75 L726.62,372.6 L726.1,373.43 L725.56,374.24 L725.01,375.03 L724.45,375.81 L723.87,376.57 L723.28,377.31 L728.23,386.02 L712.05,397.57 L707.1,388.86 L706.25,389.14 L705.4,389.41 L704.53,389.65 L703.66,389.87 L702.77,390.08 L701.88,390.26 L700.98,390.42 L700.07,390.55 L699.16,390.67 L698.24,390.77 L697.31,390.84 L696.37,390.9 L695.43,390.93 L694.48,390.94 L693.53,390.93 L692.57,390.9 L691.6,390.84 L690.63,390.77 L689.65,390.67 L688.67,390.56 L687.68,390.42 L686.69,390.26 L685.69,390.08 L684.69,389.88 L683.69,389.66 L682.68,389.41 L681.67,389.15 L680.66,388.86 L679.64,388.56 L679.64,397.22 L656.76,385.24 L656.76,376.58 L655.74,375.82 L654.73,375.05 L653.72,374.25 L652.71,373.44 L651.71,372.61 L650.71,371.77 L649.71,370.9 L648.72,370.02 L647.73,369.13 L646.75,368.22 L645.77,367.29 L644.8,366.35 L643.83,365.39 L642.87,364.41 L641.92,363.42 L640.97,362.42 L640.03,361.4 L639.09,360.37 L638.16,359.32 L637.24,358.26 L636.33,357.19 L635.42,356.1 L634.52,355 L633.63,353.88 L632.74,352.76 L631.87,351.62 L631,350.47 L630.15,349.31 L629.3,348.13 L624.35,351.67 L608.17,323.18 L613.12,319.65 L612.53,318.29 L611.95,316.93 L611.39,315.56 L610.84,314.19 L610.3,312.82 L609.78,311.44 L609.27,310.06 L608.77,308.68 L608.29,307.3 L607.82,305.91 L607.37,304.52 L606.93,303.14 L606.51,301.75 L606.1,300.36 L605.7,298.97 L605.32,297.58 L604.96,296.2 L604.6,294.81 L604.27,293.43 L603.95,292.04 L603.64,290.66 L603.35,289.28 L603.07,287.91 L602.81,286.53 L602.57,285.16 L602.34,283.79 L602.12,282.43 L601.93,281.07 L601.74,279.72 L594.74,276.05 L594.74,247.75 L601.74,251.41 L601.93,250.25 L602.12,249.1 L602.34,247.96 L602.57,246.83 L602.81,245.72 L603.07,244.62 L603.35,243.53 L603.64,242.46 L603.95,241.39 L604.27,240.35 L604.6,239.31 L604.96,238.3 L605.32,237.29 L605.7,236.3 L606.1,235.33 L606.51,234.37 L606.93,233.43 L607.37,232.5 L607.82,231.59 L608.29,230.69 L608.77,229.81 L609.27,228.95 L609.78,228.1 L610.3,227.27 L610.84,226.46 L611.39,225.67 L611.95,224.89 L612.53,224.13 L613.12,223.39 L608.17,214.68 L624.35,203.13 L629.3,211.84 L630.15,211.56 L631,211.29 L631.87,211.05 L632.74,210.83 L633.63,210.62 L634.52,210.44 L635.42,210.28 L636.33,210.15 L637.24,210.03 L638.16,209.93 L639.09,209.86 L640.03,209.8 L640.97,209.77 L641.92,209.76 L642.87,209.77 L643.83,209.8 L644.8,209.86 L645.77,209.93 L646.75,210.03 L647.73,210.14 L648.72,210.28 L649.71,210.44 L650.71,210.62 L651.71,210.82 L652.71,211.04 L653.72,211.29 L654.73,211.55 L655.74,211.84 L656.76,212.14 L656.76,203.48 L679.64,215.46 L679.64,224.12 L680.66,224.88 L681.67,225.65 L682.68,226.45 L683.69,227.26 L684.69,228.09 L685.69,228.93 L686.69,229.8 L687.68,230.68 L688.67,231.57 L689.65,232.48 L690.63,233.41 L691.6,234.35 L692.57,235.31 L693.53,236.29 L694.48,237.28 L695.43,238.28 L696.37,239.3 L697.31,240.33 L698.24,241.38 L699.16,242.44 L700.07,243.51 L700.98,244.6 L701.88,245.7 L702.77,246.82 L703.66,247.94 L704.53,249.08 L705.4,250.23 L706.25,251.39 L707.1,252.57 L712.05,249.03 L728.23,277.52 L723.28,281.05 L723.87,282.41 L724.45,283.77 L725.01,285.14 L725.56,286.51 L726.1,287.88 L726.62,289.26 L727.13,290.64 L727.63,292.02 L728.11,293.4 L728.58,294.79 L729.03,296.18 L729.47,297.56 L729.89,298.95 L730.3,300.34 L730.7,301.73 L731.08,303.12 L731.44,304.5 L731.8,305.89 L732.13,307.27 L732.45,308.66 L732.76,310.04 L733.05,311.42 L733.33,312.79 L733.59,314.17 L733.83,315.54 L734.06,316.91 L734.28,318.27 L734.47,319.63 Z M723.39,329.24 L723.37,327.43 L723.32,325.61 L723.22,323.77 L723.09,321.91 L722.92,320.04 L722.71,318.15 L722.46,316.26 L722.18,314.35 L721.85,312.43 L721.5,310.5 L721.1,308.57 L720.67,306.63 L720.2,304.68 L719.7,302.74 L719.16,300.79 L718.58,298.84 L717.97,296.89 L717.33,294.94 L716.65,293 L715.94,291.07 L715.19,289.14 L714.42,287.21 L713.61,285.3 L712.77,283.4 L711.89,281.5 L710.99,279.63 L710.06,277.76 L709.1,275.91 L708.11,274.08 L707.1,272.27 L706.06,270.47 L704.99,268.7 L703.89,266.95 L702.77,265.22 L701.63,263.52 L700.47,261.84 L699.28,260.19 L698.07,258.56 L696.84,256.97 L695.59,255.4 L694.32,253.87 L693.03,252.36 L691.73,250.9 L690.41,249.46 L689.07,248.06 L687.72,246.7 L686.36,245.37 L684.98,244.08 L683.59,242.83 L682.19,241.62 L680.78,240.45 L679.37,239.33 L677.94,238.24 L676.51,237.2 L675.07,236.2 L673.63,235.24 L672.19,234.33 L670.74,233.47 L669.29,232.65 L667.84,231.88 L666.39,231.16 L664.94,230.48 L663.49,229.85 L662.05,229.27 L660.61,228.74 L659.17,228.26 L657.74,227.83 L656.32,227.45 L654.91,227.12 L653.51,226.84 L652.11,226.61 L650.73,226.43 L649.36,226.31 L648,226.23 L646.66,226.21 L645.33,226.23 L644.02,226.31 L642.72,226.44 L641.45,226.62 L640.19,226.85 L638.95,227.14 L637.73,227.47 L636.53,227.85 L635.35,228.29 L634.19,228.77 L633.06,229.3 L631.96,229.88 L630.88,230.51 L629.82,231.19 L628.79,231.92 L627.79,232.69 L626.81,233.51 L625.87,234.38 L624.95,235.29 L624.07,236.25 L623.21,237.25 L622.38,238.29 L621.59,239.38 L620.83,240.51 L620.1,241.68 L619.41,242.9 L618.75,244.15 L618.12,245.44 L617.53,246.77 L616.97,248.13 L616.45,249.53 L615.96,250.97 L615.51,252.44 L615.1,253.94 L614.72,255.48 L614.38,257.05 L614.08,258.64 L613.81,260.27 L613.58,261.92 L613.39,263.6 L613.24,265.31 L613.13,267.04 L613.05,268.79 L613.01,270.57 L613.01,272.36 L613.05,274.18 L613.13,276.01 L613.24,277.86 L613.39,279.72 L613.58,281.6 L613.81,283.49 L614.08,285.4 L614.38,287.31 L614.72,289.23 L615.1,291.17 L615.51,293.1 L615.96,295.04 L616.45,296.99 L616.97,298.94 L617.53,300.89 L618.12,302.84 L618.75,304.78 L619.41,306.73 L620.1,308.67 L620.83,310.6 L621.59,312.53 L622.38,314.45 L623.21,316.35 L624.07,318.25 L624.95,320.14 L625.87,322.01 L626.81,323.86 L627.79,325.7 L628.79,327.53 L629.82,329.33 L630.88,331.11 L631.96,332.88 L633.06,334.62 L634.19,336.33 L635.35,338.03 L636.53,339.69 L637.73,341.33 L638.95,342.94 L640.19,344.52 L641.45,346.07 L642.72,347.59 L644.02,349.07 L645.33,350.53 L646.66,351.94 L648,353.33 L649.36,354.67 L650.73,355.98 L652.11,357.25 L653.51,358.48 L654.91,359.67 L656.32,360.82 L657.74,361.92 L659.17,362.99 L660.61,364.01 L662.05,364.99 L663.49,365.92 L664.94,366.81 L666.39,367.65 L667.84,368.44 L669.29,369.19 L670.74,369.89 L672.19,370.54 L673.63,371.14 L675.07,371.7 L676.51,372.2 L677.94,372.66 L679.37,373.07 L680.78,373.42 L682.19,373.73 L683.59,373.98 L684.98,374.18 L686.36,374.34 L687.72,374.44 L689.07,374.49 L690.41,374.49 L691.73,374.43 L693.03,374.33 L694.32,374.17 L695.59,373.97 L696.84,373.71 L698.07,373.4 L699.28,373.05 L700.47,372.64 L701.63,372.18 L702.77,371.67 L703.89,371.11 L704.99,370.51 L706.06,369.85 L707.1,369.15 L708.11,368.4 L709.1,367.6 L710.06,366.76 L710.99,365.87 L711.89,364.94 L712.77,363.96 L713.61,362.93 L714.42,361.87 L715.19,360.76 L715.94,359.61 L716.65,358.42 L717.33,357.18 L717.97,355.91 L718.58,354.6 L719.16,353.26 L719.7,351.87 L720.2,350.45 L720.67,349 L721.1,347.51 L721.5,345.99 L721.85,344.44 L722.18,342.86 L722.46,341.25 L722.71,339.61 L722.92,337.94 L723.09,336.25 L723.22,334.53 L723.32,332.79 L723.37,331.02 L723.39,329.24 Z" fill="#fff" stroke="#1e1e1e" stroke-width="1.4" fill-rule="evenodd"/>
<line x1="723.94" y1="341.68" x2="735.2" y2="350.04" stroke="#1e1e1e" stroke-width="2.7"/>
<line x1="721.38" y1="352.14" x2="732.13" y2="362.6" stroke="#1e1e1e" stroke-width="2.7"/>
<line x1="717.21" y1="361.02" x2="727.12" y2="373.28" stroke="#1e1e1e" stroke-width="2.7"/>
<line x1="711.56" y1="368.05" x2="720.32" y2="381.74" stroke="#1e1e1e" stroke-width="2.7"/>
<line x1="704.58" y1="373.03" x2="711.93" y2="387.72" stroke="#1e1e1e" stroke-width="2.7"/>
<line x1="696.5" y1="375.8" x2="702.22" y2="391.05" stroke="#1e1e1e" stroke-width="2.7"/>
<line x1="687.56" y1="376.28" x2="691.47" y2="391.63" stroke="#1e1e1e" stroke-width="2.7"/>
<line x1="678.03" y1="374.45" x2="680.01" y2="389.43" stroke="#1e1e1e" stroke-width="2.7"/>
<line x1="658.37" y1="364.16" x2="656.39" y2="377.06" stroke="#1e1e1e" stroke-width="2.7"/>
<line x1="648.84" y1="356.02" x2="644.93" y2="367.27" stroke="#1e1e1e" stroke-width="2.7"/>
<line x1="639.9" y1="346.18" x2="634.18" y2="355.44" stroke="#1e1e1e" stroke-width="2.7"/>
<line x1="631.82" y1="334.95" x2="624.47" y2="341.94" stroke="#1e1e1e" stroke-width="2.7"/>
<line x1="624.84" y1="322.66" x2="616.08" y2="327.18" stroke="#1e1e1e" stroke-width="2.7"/>
<line x1="619.19" y1="309.71" x2="609.28" y2="311.6" stroke="#1e1e1e" stroke-width="2.7"/>
<line x1="615.02" y1="296.46" x2="604.27" y2="295.67" stroke="#1e1e1e" stroke-width="2.7"/>
<line x1="612.46" y1="283.33" x2="601.2" y2="279.9" stroke="#1e1e1e" stroke-width="2.7"/>
<line x1="612.46" y1="259.02" x2="601.2" y2="250.66" stroke="#1e1e1e" stroke-width="2.7"/>
<line x1="615.02" y1="248.56" x2="604.27" y2="238.1" stroke="#1e1e1e" stroke-width="2.7"/>
<line x1="619.19" y1="239.68" x2="609.28" y2="227.42" stroke="#1e1e1e" stroke-width="2.7"/>
<line x1="624.84" y1="232.65" x2="616.08" y2="218.96" stroke="#1e1e1e" stroke-width="2.7"/>
<line x1="631.82" y1="227.67" x2="624.47" y2="212.98" stroke="#1e1e1e" stroke-width="2.7"/>
<line x1="639.9" y1="224.9" x2="634.18" y2="209.65" stroke="#1e1e1e" stroke-width="2.7"/>
<line x1="648.84" y1="224.42" x2="644.93" y2="209.07" stroke="#1e1e1e" stroke-width="2.7"/>
<line x1="658.37" y1="226.25" x2="656.39" y2="211.27" stroke="#1e1e1e" stroke-width="2.7"/>
<line x1="678.03" y1="236.54" x2="680.01" y2="223.64" stroke="#1e1e1e" stroke-width="2.7"/>
<line x1="687.56" y1="244.68" x2="691.47" y2="233.43" stroke="#1e1e1e" stroke-width="2.7"/>
<line x1="696.5" y1="254.52" x2="702.22" y2="245.26" stroke="#1e1e1e" stroke-width="2.7"/>
<line x1="704.58" y1="265.75" x2="711.93" y2="258.76" stroke="#1e1e1e" stroke-width="2.7"/>
<line x1="711.56" y1="278.04" x2="720.32" y2="273.52" stroke="#1e1e1e" stroke-width="2.7"/>
<line x1="717.21" y1="290.99" x2="727.12" y2="289.1" stroke="#1e1e1e" stroke-width="2.7"/>
<line x1="721.38" y1="304.24" x2="732.13" y2="305.03" stroke="#1e1e1e" stroke-width="2.7"/>
<line x1="723.94" y1="317.37" x2="735.2" y2="320.8" stroke="#1e1e1e" stroke-width="2.7"/>
<line x1="722.19" y1="314.46" x2="734.66" y2="320.98" stroke="#1e1e1e" stroke-width="1.4"/>
<line x1="722.19" y1="342.76" x2="734.66" y2="349.29" stroke="#1e1e1e" stroke-width="1.4"/>
<path d="M738.45,337.12 L738.39,338 L738.21,338.8 L737.92,339.49 L737.52,340.06 L737.03,340.49 L736.45,340.77 L735.81,340.9 L735.11,340.86 L734.39,340.66 L733.64,340.31 L732.91,339.81 L732.19,339.18 L731.52,338.44 L730.91,337.6 L730.37,336.68 L729.93,335.71 L729.58,334.72 L729.35,333.72 L729.23,332.75 L729.23,331.83 L729.35,330.99 L729.58,330.24 L729.93,329.61 L730.37,329.11 L730.91,328.75 L731.52,328.55 L732.19,328.5 L732.91,328.62 L733.64,328.9 L734.39,329.32 L735.11,329.89 L735.81,330.58 L736.45,331.37 L737.03,332.26 L737.52,333.2 L737.92,334.19 L738.21,335.18 L738.39,336.17 L738.45,337.12 Z" fill="none" stroke="#1e1e1e" stroke-width="1.4" />
<line x1="723.59" y1="327.85" x2="729.37" y2="330.88" stroke="#1e1e1e" stroke-width="1.4"/>
<line x1="723.59" y1="330.83" x2="729.37" y2="333.86" stroke="#1e1e1e" stroke-width="1.4"/>
<line x1="679.64" y1="373.14" x2="679.64" y2="388.56" stroke="#1e1e1e" stroke-width="1.4"/>
<line x1="656.76" y1="361.16" x2="656.76" y2="376.58" stroke="#1e1e1e" stroke-width="1.4"/>
<path d="M672.82,383.96 L672.76,384.85 L672.58,385.64 L672.29,386.34 L671.89,386.91 L671.4,387.34 L670.82,387.62 L670.18,387.74 L669.48,387.7 L668.76,387.5 L668.01,387.15 L667.28,386.66 L666.56,386.03 L665.89,385.28 L665.28,384.44 L664.74,383.52 L664.3,382.55 L663.95,381.56 L663.72,380.56 L663.6,379.6 L663.6,378.68 L663.72,377.83 L663.95,377.08 L664.3,376.45 L664.74,375.95 L665.28,375.59 L665.89,375.39 L666.56,375.35 L667.28,375.47 L668.01,375.74 L668.76,376.17 L669.48,376.73 L670.18,377.42 L670.82,378.22 L671.4,379.1 L671.89,380.04 L672.29,381.03 L672.58,382.03 L672.76,383.01 L672.82,383.96 Z" fill="none" stroke="#1e1e1e" stroke-width="1.4" />
<line x1="669.4" y1="369.51" x2="669.4" y2="376.66" stroke="#1e1e1e" stroke-width="1.4"/>
<line x1="667" y1="368.25" x2="667" y2="375.4" stroke="#1e1e1e" stroke-width="1.4"/>
<line x1="614.21" y1="286.24" x2="601.74" y2="279.72" stroke="#1e1e1e" stroke-width="1.4"/>
<line x1="614.21" y1="257.94" x2="601.74" y2="251.41" stroke="#1e1e1e" stroke-width="1.4"/>
<path d="M607.19,268.41 L607.13,269.3 L606.95,270.1 L606.66,270.79 L606.26,271.36 L605.77,271.79 L605.19,272.07 L604.55,272.19 L603.86,272.16 L603.13,271.96 L602.39,271.61 L601.65,271.11 L600.93,270.48 L600.26,269.74 L599.65,268.89 L599.12,267.98 L598.67,267.01 L598.32,266.01 L598.09,265.02 L597.97,264.05 L597.97,263.13 L598.09,262.29 L598.32,261.54 L598.67,260.9 L599.12,260.4 L599.65,260.05 L600.26,259.84 L600.93,259.8 L601.65,259.92 L602.39,260.2 L603.13,260.62 L603.86,261.19 L604.55,261.87 L605.19,262.67 L605.77,263.55 L606.26,264.5 L606.66,265.48 L606.95,266.48 L607.13,267.47 L607.19,268.41 Z" fill="none" stroke="#1e1e1e" stroke-width="1.4" />
<line x1="612.81" y1="272.85" x2="607.03" y2="269.82" stroke="#1e1e1e" stroke-width="1.4"/>
<line x1="612.81" y1="269.87" x2="607.03" y2="266.84" stroke="#1e1e1e" stroke-width="1.4"/>
<line x1="656.76" y1="227.56" x2="656.76" y2="212.14" stroke="#1e1e1e" stroke-width="1.4"/>
<line x1="679.64" y1="239.54" x2="679.64" y2="224.12" stroke="#1e1e1e" stroke-width="1.4"/>
<path d="M672.82,221.57 L672.76,222.46 L672.58,223.26 L672.29,223.95 L671.89,224.52 L671.4,224.95 L670.82,225.23 L670.18,225.35 L669.48,225.31 L668.76,225.12 L668.01,224.76 L667.28,224.27 L666.56,223.64 L665.89,222.89 L665.28,222.05 L664.74,221.13 L664.3,220.17 L663.95,219.17 L663.72,218.18 L663.6,217.21 L663.6,216.29 L663.72,215.44 L663.95,214.69 L664.3,214.06 L664.74,213.56 L665.28,213.2 L665.89,213 L666.56,212.96 L667.28,213.08 L668.01,213.35 L668.76,213.78 L669.48,214.34 L670.18,215.03 L670.82,215.83 L671.4,216.71 L671.89,217.66 L672.29,218.64 L672.58,219.64 L672.76,220.62 L672.82,221.57 Z" fill="none" stroke="#1e1e1e" stroke-width="1.4" />
<line x1="667" y1="231.19" x2="667" y2="224.04" stroke="#1e1e1e" stroke-width="1.4"/>
<line x1="669.4" y1="232.45" x2="669.4" y2="225.3" stroke="#1e1e1e" stroke-width="1.4"/>
<clipPath id="boreclip"><path d="M723.39,329.24 L723.37,331.02 L723.32,332.79 L723.22,334.53 L723.09,336.25 L722.92,337.94 L722.71,339.61 L722.46,341.25 L722.18,342.86 L721.85,344.44 L721.5,345.99 L721.1,347.51 L720.67,349 L720.2,350.45 L719.7,351.87 L719.16,353.26 L718.58,354.6 L717.97,355.91 L717.33,357.18 L716.65,358.42 L715.94,359.61 L715.19,360.76 L714.42,361.87 L713.61,362.93 L712.77,363.96 L711.89,364.94 L710.99,365.87 L710.06,366.76 L709.1,367.6 L708.11,368.4 L707.1,369.15 L706.06,369.85 L704.99,370.51 L703.89,371.11 L702.77,371.67 L701.63,372.18 L700.47,372.64 L699.28,373.05 L698.07,373.4 L696.84,373.71 L695.59,373.97 L694.32,374.17 L693.03,374.33 L691.73,374.43 L690.41,374.49 L689.07,374.49 L687.72,374.44 L686.36,374.34 L684.98,374.18 L683.59,373.98 L682.19,373.73 L680.78,373.42 L679.37,373.07 L677.94,372.66 L676.51,372.2 L675.07,371.7 L673.63,371.14 L672.19,370.54 L670.74,369.89 L669.29,369.19 L667.84,368.44 L666.39,367.65 L664.94,366.81 L663.49,365.92 L662.05,364.99 L660.61,364.01 L659.17,362.99 L657.74,361.92 L656.32,360.82 L654.91,359.67 L653.51,358.48 L652.11,357.25 L650.73,355.98 L649.36,354.67 L648,353.33 L646.66,351.94 L645.33,350.53 L644.02,349.07 L642.72,347.59 L641.45,346.07 L640.19,344.52 L638.95,342.94 L637.73,341.33 L636.53,339.69 L635.35,338.03 L634.19,336.33 L633.06,334.62 L631.96,332.88 L630.88,331.11 L629.82,329.33 L628.79,327.53 L627.79,325.7 L626.81,323.86 L625.87,322.01 L624.95,320.14 L624.07,318.25 L623.21,316.35 L622.38,314.45 L621.59,312.53 L620.83,310.6 L620.1,308.67 L619.41,306.73 L618.75,304.78 L618.12,302.84 L617.53,300.89 L616.97,298.94 L616.45,296.99 L615.96,295.04 L615.51,293.1 L615.1,291.17 L614.72,289.23 L614.38,287.31 L614.08,285.4 L613.81,283.49 L613.58,281.6 L613.39,279.72 L613.24,277.86 L613.13,276.01 L613.05,274.18 L613.01,272.36 L613.01,270.57 L613.05,268.79 L613.13,267.04 L613.24,265.31 L613.39,263.6 L613.58,261.92 L613.81,260.27 L614.08,258.64 L614.38,257.05 L614.72,255.48 L615.1,253.94 L615.51,252.44 L615.96,250.97 L616.45,249.53 L616.97,248.13 L617.53,246.77 L618.12,245.44 L618.75,244.15 L619.41,242.9 L620.1,241.68 L620.83,240.51 L621.59,239.38 L622.38,238.29 L623.21,237.25 L624.07,236.25 L624.95,235.29 L625.87,234.38 L626.81,233.51 L627.79,232.69 L628.79,231.92 L629.82,231.19 L630.88,230.51 L631.96,229.88 L633.06,229.3 L634.19,228.77 L635.35,228.29 L636.53,227.85 L637.73,227.47 L638.95,227.14 L640.19,226.85 L641.45,226.62 L642.72,226.44 L644.02,226.31 L645.33,226.23 L646.66,226.21 L648,226.23 L649.36,226.31 L650.73,226.43 L652.11,226.61 L653.51,226.84 L654.91,227.12 L656.32,227.45 L657.74,227.83 L659.17,228.26 L660.61,228.74 L662.05,229.27 L663.49,229.85 L664.94,230.48 L666.39,231.16 L667.84,231.88 L669.29,232.65 L670.74,233.47 L672.19,234.33 L673.63,235.24 L675.07,236.2 L676.51,237.2 L677.94,238.24 L679.37,239.33 L680.78,240.45 L682.19,241.62 L683.59,242.83 L684.98,244.08 L686.36,245.37 L687.72,246.7 L689.07,248.06 L690.41,249.46 L691.73,250.9 L693.03,252.36 L694.32,253.87 L695.59,255.4 L696.84,256.97 L698.07,258.56 L699.28,260.19 L700.47,261.84 L701.63,263.52 L702.77,265.22 L703.89,266.95 L704.99,268.7 L706.06,270.47 L707.1,272.27 L708.11,274.08 L709.1,275.91 L710.06,277.76 L710.99,279.63 L711.89,281.5 L712.77,283.4 L713.61,285.3 L714.42,287.21 L715.19,289.14 L715.94,291.07 L716.65,293 L717.33,294.94 L717.97,296.89 L718.58,298.84 L719.16,300.79 L719.7,302.74 L720.2,304.68 L720.67,306.63 L721.1,308.57 L721.5,310.5 L721.85,312.43 L722.18,314.35 L722.46,316.26 L722.71,318.15 L722.92,320.04 L723.09,321.91 L723.22,323.77 L723.32,325.61 L723.37,327.43 L723.39,329.24 Z"/></clipPath>
<path d="M723.39,329.24 L723.37,331.02 L723.32,332.79 L723.22,334.53 L723.09,336.25 L722.92,337.94 L722.71,339.61 L722.46,341.25 L722.18,342.86 L721.85,344.44 L721.5,345.99 L721.1,347.51 L720.67,349 L720.2,350.45 L719.7,351.87 L719.16,353.26 L718.58,354.6 L717.97,355.91 L717.33,357.18 L716.65,358.42 L715.94,359.61 L715.19,360.76 L714.42,361.87 L713.61,362.93 L712.77,363.96 L711.89,364.94 L710.99,365.87 L710.06,366.76 L709.1,367.6 L708.11,368.4 L707.1,369.15 L706.06,369.85 L704.99,370.51 L703.89,371.11 L702.77,371.67 L701.63,372.18 L700.47,372.64 L699.28,373.05 L698.07,373.4 L696.84,373.71 L695.59,373.97 L694.32,374.17 L693.03,374.33 L691.73,374.43 L690.41,374.49 L689.07,374.49 L687.72,374.44 L686.36,374.34 L684.98,374.18 L683.59,373.98 L682.19,373.73 L680.78,373.42 L679.37,373.07 L677.94,372.66 L676.51,372.2 L675.07,371.7 L673.63,371.14 L672.19,370.54 L670.74,369.89 L669.29,369.19 L667.84,368.44 L666.39,367.65 L664.94,366.81 L663.49,365.92 L662.05,364.99 L660.61,364.01 L659.17,362.99 L657.74,361.92 L656.32,360.82 L654.91,359.67 L653.51,358.48 L652.11,357.25 L650.73,355.98 L649.36,354.67 L648,353.33 L646.66,351.94 L645.33,350.53 L644.02,349.07 L642.72,347.59 L641.45,346.07 L640.19,344.52 L638.95,342.94 L637.73,341.33 L636.53,339.69 L635.35,338.03 L634.19,336.33 L633.06,334.62 L631.96,332.88 L630.88,331.11 L629.82,329.33 L628.79,327.53 L627.79,325.7 L626.81,323.86 L625.87,322.01 L624.95,320.14 L624.07,318.25 L623.21,316.35 L622.38,314.45 L621.59,312.53 L620.83,310.6 L620.1,308.67 L619.41,306.73 L618.75,304.78 L618.12,302.84 L617.53,300.89 L616.97,298.94 L616.45,296.99 L615.96,295.04 L615.51,293.1 L615.1,291.17 L614.72,289.23 L614.38,287.31 L614.08,285.4 L613.81,283.49 L613.58,281.6 L613.39,279.72 L613.24,277.86 L613.13,276.01 L613.05,274.18 L613.01,272.36 L613.01,270.57 L613.05,268.79 L613.13,267.04 L613.24,265.31 L613.39,263.6 L613.58,261.92 L613.81,260.27 L614.08,258.64 L614.38,257.05 L614.72,255.48 L615.1,253.94 L615.51,252.44 L615.96,250.97 L616.45,249.53 L616.97,248.13 L617.53,246.77 L618.12,245.44 L618.75,244.15 L619.41,242.9 L620.1,241.68 L620.83,240.51 L621.59,239.38 L622.38,238.29 L623.21,237.25 L624.07,236.25 L624.95,235.29 L625.87,234.38 L626.81,233.51 L627.79,232.69 L628.79,231.92 L629.82,231.19 L630.88,230.51 L631.96,229.88 L633.06,229.3 L634.19,228.77 L635.35,228.29 L636.53,227.85 L637.73,227.47 L638.95,227.14 L640.19,226.85 L641.45,226.62 L642.72,226.44 L644.02,226.31 L645.33,226.23 L646.66,226.21 L648,226.23 L649.36,226.31 L650.73,226.43 L652.11,226.61 L653.51,226.84 L654.91,227.12 L656.32,227.45 L657.74,227.83 L659.17,228.26 L660.61,228.74 L662.05,229.27 L663.49,229.85 L664.94,230.48 L666.39,231.16 L667.84,231.88 L669.29,232.65 L670.74,233.47 L672.19,234.33 L673.63,235.24 L675.07,236.2 L676.51,237.2 L677.94,238.24 L679.37,239.33 L680.78,240.45 L682.19,241.62 L683.59,242.83 L684.98,244.08 L686.36,245.37 L687.72,246.7 L689.07,248.06 L690.41,249.46 L691.73,250.9 L693.03,252.36 L694.32,253.87 L695.59,255.4 L696.84,256.97 L698.07,258.56 L699.28,260.19 L700.47,261.84 L701.63,263.52 L702.77,265.22 L703.89,266.95 L704.99,268.7 L706.06,270.47 L707.1,272.27 L708.11,274.08 L709.1,275.91 L710.06,277.76 L710.99,279.63 L711.89,281.5 L712.77,283.4 L713.61,285.3 L714.42,287.21 L715.19,289.14 L715.94,291.07 L716.65,293 L717.33,294.94 L717.97,296.89 L718.58,298.84 L719.16,300.79 L719.7,302.74 L720.2,304.68 L720.67,306.63 L721.1,308.57 L721.5,310.5 L721.85,312.43 L722.18,314.35 L722.46,316.26 L722.71,318.15 L722.92,320.04 L723.09,321.91 L723.22,323.77 L723.32,325.61 L723.37,327.43 L723.39,329.24 Z" fill="#fff" stroke="none"/>
<g clip-path="url(#boreclip)">
<path d="M724.35,328.34 L724.33,330.12 L724.28,331.89 L724.18,333.63 L724.05,335.35 L723.88,337.04 L723.67,338.71 L723.42,340.35 L723.14,341.96 L722.81,343.54 L722.46,345.09 L722.06,346.61 L721.63,348.1 L721.16,349.55 L720.66,350.97 L720.12,352.36 L719.54,353.7 L718.93,355.01 L718.29,356.28 L717.61,357.52 L716.9,358.71 L716.15,359.86 L715.38,360.97 L714.57,362.03 L713.73,363.06 L712.85,364.04 L711.95,364.97 L711.02,365.86 L710.06,366.7 L709.07,367.5 L708.06,368.25 L707.02,368.95 L705.95,369.61 L704.85,370.21 L703.73,370.77 L702.59,371.28 L701.43,371.74 L700.24,372.15 L699.03,372.5 L697.8,372.81 L696.55,373.07 L695.28,373.27 L693.99,373.43 L692.69,373.53 L691.37,373.59 L690.03,373.59 L688.68,373.54 L687.32,373.44 L685.94,373.28 L684.55,373.08 L683.15,372.83 L681.74,372.52 L680.33,372.17 L678.9,371.76 L677.47,371.3 L676.03,370.8 L674.59,370.24 L673.15,369.64 L671.7,368.99 L670.25,368.29 L668.8,367.54 L667.35,366.75 L665.9,365.91 L664.45,365.02 L663.01,364.09 L661.57,363.11 L660.13,362.09 L658.7,361.02 L657.28,359.92 L655.87,358.77 L654.47,357.58 L653.07,356.35 L651.69,355.08 L650.32,353.77 L648.96,352.43 L647.62,351.04 L646.29,349.63 L644.98,348.17 L643.68,346.69 L642.41,345.17 L641.15,343.62 L639.91,342.04 L638.69,340.43 L637.49,338.79 L636.31,337.13 L635.15,335.43 L634.02,333.72 L632.92,331.98 L631.84,330.21 L630.78,328.43 L629.75,326.63 L628.75,324.8 L627.77,322.96 L626.83,321.11 L625.91,319.24 L625.03,317.35 L624.17,315.45 L623.34,313.55 L622.55,311.63 L621.79,309.7 L621.06,307.77 L620.37,305.83 L619.71,303.88 L619.08,301.94 L618.49,299.99 L617.93,298.04 L617.41,296.09 L616.92,294.14 L616.47,292.2 L616.06,290.27 L615.68,288.33 L615.34,286.41 L615.04,284.5 L614.77,282.59 L614.54,280.7 L614.35,278.82 L614.2,276.96 L614.09,275.11 L614.01,273.28 L613.97,271.46 L613.97,269.67 L614.01,267.89 L614.09,266.14 L614.2,264.41 L614.35,262.7 L614.54,261.02 L614.77,259.37 L615.04,257.74 L615.34,256.15 L615.68,254.58 L616.06,253.04 L616.47,251.54 L616.92,250.07 L617.41,248.63 L617.93,247.23 L618.49,245.87 L619.08,244.54 L619.71,243.25 L620.37,242 L621.06,240.78 L621.79,239.61 L622.55,238.48 L623.34,237.39 L624.17,236.35 L625.03,235.35 L625.91,234.39 L626.83,233.48 L627.77,232.61 L628.75,231.79 L629.75,231.02 L630.78,230.29 L631.84,229.61 L632.92,228.98 L634.02,228.4 L635.15,227.87 L636.31,227.39 L637.49,226.95 L638.69,226.57 L639.91,226.24 L641.15,225.95 L642.41,225.72 L643.68,225.54 L644.98,225.41 L646.29,225.33 L647.62,225.31 L648.96,225.33 L650.32,225.41 L651.69,225.53 L653.07,225.71 L654.47,225.94 L655.87,226.22 L657.28,226.55 L658.7,226.93 L660.13,227.36 L661.57,227.84 L663.01,228.37 L664.45,228.95 L665.9,229.58 L667.35,230.26 L668.8,230.98 L670.25,231.75 L671.7,232.57 L673.15,233.43 L674.59,234.34 L676.03,235.3 L677.47,236.3 L678.9,237.34 L680.33,238.43 L681.74,239.55 L683.15,240.72 L684.55,241.93 L685.94,243.18 L687.32,244.47 L688.68,245.8 L690.03,247.16 L691.37,248.56 L692.69,250 L693.99,251.46 L695.28,252.97 L696.55,254.5 L697.8,256.07 L699.03,257.66 L700.24,259.29 L701.43,260.94 L702.59,262.62 L703.73,264.32 L704.85,266.05 L705.95,267.8 L707.02,269.57 L708.06,271.37 L709.07,273.18 L710.06,275.01 L711.02,276.86 L711.95,278.73 L712.85,280.6 L713.73,282.5 L714.57,284.4 L715.38,286.31 L716.15,288.24 L716.9,290.17 L717.61,292.1 L718.29,294.04 L718.93,295.99 L719.54,297.94 L720.12,299.89 L720.66,301.84 L721.16,303.78 L721.63,305.73 L722.06,307.67 L722.46,309.6 L722.81,311.53 L723.14,313.45 L723.42,315.36 L723.67,317.25 L723.88,319.14 L724.05,321.01 L724.18,322.87 L724.28,324.71 L724.33,326.53 L724.35,328.34 Z" fill="none" stroke="#1e1e1e" stroke-width="1.4" />
<path d="M728.71,324.08 L728.69,325.86 L728.64,327.62 L728.54,329.35 L728.41,331.07 L728.24,332.76 L728.03,334.42 L727.78,336.06 L727.5,337.66 L727.18,339.24 L726.82,340.79 L726.43,342.31 L725.99,343.79 L725.53,345.24 L725.02,346.66 L724.49,348.04 L723.91,349.38 L723.3,350.69 L722.66,351.96 L721.98,353.19 L721.27,354.38 L720.53,355.53 L719.75,356.63 L718.95,357.7 L718.11,358.72 L717.24,359.7 L716.34,360.63 L715.41,361.52 L714.45,362.36 L713.47,363.15 L712.45,363.9 L711.41,364.6 L710.35,365.26 L709.25,365.86 L708.14,366.42 L707,366.92 L705.83,367.38 L704.65,367.79 L703.44,368.14 L702.21,368.45 L700.97,368.71 L699.7,368.91 L698.42,369.07 L697.11,369.17 L695.8,369.22 L694.46,369.22 L693.12,369.17 L691.76,369.07 L690.38,368.92 L689,368.72 L687.6,368.47 L686.2,368.16 L684.78,367.81 L683.36,367.4 L681.93,366.95 L680.5,366.44 L679.06,365.89 L677.62,365.29 L676.17,364.64 L674.73,363.94 L673.28,363.19 L671.83,362.4 L670.38,361.56 L668.94,360.68 L667.5,359.74 L666.06,358.77 L664.63,357.75 L663.21,356.69 L661.79,355.58 L660.38,354.44 L658.98,353.25 L657.59,352.02 L656.21,350.76 L654.84,349.45 L653.49,348.11 L652.15,346.73 L650.82,345.32 L649.51,343.87 L648.22,342.39 L646.94,340.87 L645.69,339.32 L644.45,337.75 L643.23,336.14 L642.04,334.51 L640.86,332.84 L639.71,331.16 L638.58,329.44 L637.48,327.71 L636.4,325.95 L635.34,324.17 L634.32,322.37 L633.32,320.55 L632.34,318.71 L631.4,316.86 L630.49,314.99 L629.6,313.11 L628.75,311.22 L627.92,309.31 L627.13,307.4 L626.37,305.48 L625.65,303.55 L624.95,301.61 L624.29,299.67 L623.67,297.73 L623.08,295.79 L622.52,293.84 L622,291.9 L621.51,289.96 L621.07,288.02 L620.65,286.09 L620.28,284.16 L619.94,282.24 L619.63,280.33 L619.37,278.43 L619.14,276.54 L618.95,274.67 L618.8,272.81 L618.69,270.96 L618.61,269.13 L618.57,267.32 L618.57,265.53 L618.61,263.76 L618.69,262.01 L618.8,260.29 L618.95,258.58 L619.14,256.91 L619.37,255.26 L619.63,253.64 L619.94,252.04 L620.28,250.48 L620.65,248.95 L621.07,247.45 L621.51,245.98 L622,244.54 L622.52,243.15 L623.08,241.78 L623.67,240.46 L624.29,239.17 L624.95,237.92 L625.65,236.71 L626.37,235.54 L627.13,234.41 L627.92,233.33 L628.75,232.29 L629.6,231.29 L630.49,230.33 L631.4,229.42 L632.34,228.56 L633.32,227.74 L634.32,226.97 L635.34,226.24 L636.4,225.56 L637.48,224.94 L638.58,224.36 L639.71,223.82 L640.86,223.34 L642.04,222.91 L643.23,222.53 L644.45,222.2 L645.69,221.91 L646.94,221.68 L648.22,221.5 L649.51,221.37 L650.82,221.3 L652.15,221.27 L653.49,221.29 L654.84,221.37 L656.21,221.5 L657.59,221.67 L658.98,221.9 L660.38,222.18 L661.79,222.51 L663.21,222.89 L664.63,223.32 L666.06,223.8 L667.5,224.33 L668.94,224.91 L670.38,225.53 L671.83,226.21 L673.28,226.93 L674.73,227.7 L676.17,228.51 L677.62,229.38 L679.06,230.28 L680.5,231.24 L681.93,232.23 L683.36,233.27 L684.78,234.36 L686.2,235.48 L687.6,236.65 L689,237.86 L690.38,239.1 L691.76,240.39 L693.12,241.71 L694.46,243.07 L695.8,244.47 L697.11,245.9 L698.42,247.37 L699.7,248.87 L700.97,250.4 L702.21,251.96 L703.44,253.55 L704.65,255.17 L705.83,256.82 L707,258.5 L708.14,260.2 L709.25,261.92 L710.35,263.67 L711.41,265.44 L712.45,267.23 L713.47,269.04 L714.45,270.87 L715.41,272.71 L716.34,274.57 L717.24,276.45 L718.11,278.33 L718.95,280.23 L719.75,282.14 L720.53,284.06 L721.27,285.99 L721.98,287.92 L722.66,289.86 L723.3,291.8 L723.91,293.74 L724.49,295.69 L725.02,297.63 L725.53,299.57 L725.99,301.51 L726.43,303.45 L726.82,305.38 L727.18,307.3 L727.5,309.22 L727.78,311.12 L728.03,313.02 L728.24,314.9 L728.41,316.76 L728.54,318.62 L728.64,320.46 L728.69,322.27 L728.71,324.08 Z" fill="none" stroke="#1e1e1e" stroke-width="1.4" />
<path d="M732.95,319.98 L732.93,321.76 L732.88,323.52 L732.78,325.25 L732.65,326.97 L732.48,328.65 L732.27,330.31 L732.02,331.95 L731.74,333.55 L731.42,335.13 L731.06,336.68 L730.67,338.19 L730.24,339.67 L729.77,341.12 L729.27,342.53 L728.73,343.91 L728.16,345.26 L727.55,346.56 L726.91,347.83 L726.23,349.05 L725.52,350.24 L724.78,351.39 L724.01,352.49 L723.2,353.56 L722.36,354.58 L721.5,355.55 L720.6,356.48 L719.67,357.37 L718.71,358.21 L717.73,359 L716.72,359.75 L715.68,360.45 L714.61,361.1 L713.52,361.71 L712.41,362.26 L711.27,362.77 L710.11,363.22 L708.92,363.63 L707.72,363.99 L706.49,364.29 L705.25,364.55 L703.98,364.76 L702.7,364.91 L701.4,365.01 L700.08,365.07 L698.75,365.07 L697.41,365.02 L696.05,364.92 L694.68,364.76 L693.3,364.56 L691.9,364.31 L690.5,364.01 L689.09,363.65 L687.67,363.25 L686.24,362.79 L684.81,362.29 L683.37,361.74 L681.93,361.14 L680.49,360.49 L679.04,359.79 L677.6,359.04 L676.15,358.25 L674.71,357.41 L673.27,356.53 L671.83,355.6 L670.39,354.63 L668.96,353.61 L667.54,352.55 L666.13,351.45 L664.72,350.3 L663.32,349.12 L661.93,347.89 L660.55,346.63 L659.19,345.32 L657.84,343.98 L656.5,342.61 L655.18,341.19 L653.87,339.75 L652.58,338.27 L651.3,336.75 L650.05,335.21 L648.81,333.63 L647.6,332.03 L646.4,330.4 L645.23,328.74 L644.08,327.05 L642.95,325.34 L641.85,323.61 L640.77,321.85 L639.72,320.08 L638.69,318.28 L637.7,316.46 L636.72,314.63 L635.78,312.78 L634.87,310.91 L633.99,309.04 L633.13,307.15 L632.31,305.24 L631.52,303.33 L630.76,301.41 L630.04,299.49 L629.34,297.55 L628.69,295.62 L628.06,293.68 L627.47,291.74 L626.92,289.79 L626.4,287.85 L625.91,285.91 L625.46,283.98 L625.05,282.05 L624.67,280.12 L624.34,278.21 L624.03,276.3 L623.77,274.4 L623.54,272.52 L623.35,270.65 L623.2,268.79 L623.09,266.95 L623.01,265.12 L622.97,263.31 L622.97,261.52 L623.01,259.76 L623.09,258.01 L623.2,256.29 L623.35,254.59 L623.54,252.91 L623.77,251.27 L624.03,249.65 L624.34,248.06 L624.67,246.49 L625.05,244.96 L625.46,243.46 L625.91,242 L626.4,240.57 L626.92,239.17 L627.47,237.81 L628.06,236.49 L628.69,235.2 L629.34,233.95 L630.04,232.75 L630.76,231.58 L631.52,230.45 L632.31,229.37 L633.13,228.33 L633.99,227.33 L634.87,226.38 L635.78,225.47 L636.72,224.6 L637.7,223.79 L638.69,223.02 L639.72,222.29 L640.77,221.62 L641.85,220.99 L642.95,220.41 L644.08,219.88 L645.23,219.4 L646.4,218.97 L647.6,218.58 L648.81,218.25 L650.05,217.97 L651.3,217.74 L652.58,217.56 L653.87,217.43 L655.18,217.35 L656.5,217.33 L657.84,217.35 L659.19,217.43 L660.55,217.55 L661.93,217.73 L663.32,217.96 L664.72,218.24 L666.13,218.57 L667.54,218.94 L668.96,219.37 L670.39,219.85 L671.83,220.38 L673.27,220.96 L674.71,221.58 L676.15,222.26 L677.6,222.98 L679.04,223.75 L680.49,224.56 L681.93,225.42 L683.37,226.33 L684.81,227.28 L686.24,228.28 L687.67,229.32 L689.09,230.4 L690.5,231.52 L691.9,232.69 L693.3,233.89 L694.68,235.14 L696.05,236.42 L697.41,237.74 L698.75,239.1 L700.08,240.5 L701.4,241.93 L702.7,243.39 L703.98,244.89 L705.25,246.41 L706.49,247.97 L707.72,249.56 L708.92,251.18 L710.11,252.83 L711.27,254.5 L712.41,256.2 L713.52,257.92 L714.61,259.67 L715.68,261.43 L716.72,263.22 L717.73,265.03 L718.71,266.85 L719.67,268.69 L720.6,270.55 L721.5,272.42 L722.36,274.31 L723.2,276.2 L724.01,278.11 L724.78,280.03 L725.52,281.95 L726.23,283.88 L726.91,285.81 L727.55,287.75 L728.16,289.69 L728.73,291.64 L729.27,293.58 L729.77,295.52 L730.24,297.45 L730.67,299.39 L731.06,301.31 L731.42,303.23 L731.74,305.15 L732.02,307.05 L732.27,308.94 L732.48,310.82 L732.65,312.68 L732.78,314.53 L732.88,316.37 L732.93,318.19 L732.95,319.98 Z" fill="none" stroke="#1e1e1e" stroke-width="1.4" />
<path d="M737.19,315.89 L737.17,317.67 L737.12,319.42 L737.02,321.15 L736.89,322.86 L736.72,324.55 L736.51,326.21 L736.26,327.84 L735.98,329.44 L735.66,331.02 L735.3,332.56 L734.91,334.07 L734.48,335.55 L734.02,337 L733.51,338.41 L732.98,339.79 L732.4,341.13 L731.8,342.43 L731.16,343.69 L730.48,344.92 L729.77,346.11 L729.03,347.25 L728.26,348.35 L727.46,349.42 L726.62,350.43 L725.75,351.41 L724.86,352.34 L723.93,353.22 L722.97,354.06 L721.99,354.86 L720.98,355.6 L719.94,356.3 L718.88,356.95 L717.79,357.55 L716.68,358.11 L715.54,358.61 L714.38,359.07 L713.2,359.48 L712,359.83 L710.77,360.14 L709.53,360.39 L708.26,360.6 L706.98,360.75 L705.69,360.86 L704.37,360.91 L703.04,360.91 L701.7,360.86 L700.34,360.76 L698.97,360.61 L697.59,360.4 L696.2,360.15 L694.8,359.85 L693.39,359.5 L691.97,359.09 L690.55,358.64 L689.12,358.14 L687.68,357.58 L686.25,356.98 L684.81,356.33 L683.36,355.64 L681.92,354.89 L680.48,354.1 L679.03,353.27 L677.59,352.38 L676.16,351.46 L674.73,350.48 L673.3,349.47 L671.88,348.41 L670.46,347.31 L669.06,346.17 L667.66,344.98 L666.28,343.76 L664.9,342.5 L663.54,341.19 L662.19,339.86 L660.85,338.48 L659.53,337.07 L658.22,335.63 L656.93,334.15 L655.66,332.64 L654.41,331.1 L653.17,329.52 L651.96,327.92 L650.77,326.29 L649.6,324.63 L648.45,322.95 L647.32,321.24 L646.22,319.51 L645.15,317.76 L644.09,315.98 L643.07,314.19 L642.07,312.38 L641.1,310.54 L640.16,308.7 L639.25,306.84 L638.37,304.96 L637.52,303.07 L636.7,301.17 L635.91,299.26 L635.15,297.35 L634.43,295.42 L633.74,293.49 L633.08,291.56 L632.45,289.62 L631.86,287.68 L631.31,285.75 L630.79,283.81 L630.31,281.87 L629.86,279.94 L629.45,278.01 L629.07,276.09 L628.73,274.18 L628.43,272.27 L628.17,270.38 L627.94,268.5 L627.75,266.63 L627.6,264.77 L627.49,262.93 L627.41,261.11 L627.37,259.3 L627.37,257.52 L627.41,255.75 L627.49,254.01 L627.6,252.29 L627.75,250.59 L627.94,248.92 L628.17,247.27 L628.43,245.66 L628.73,244.07 L629.07,242.51 L629.45,240.98 L629.86,239.48 L630.31,238.02 L630.79,236.59 L631.31,235.2 L631.86,233.84 L632.45,232.52 L633.08,231.23 L633.74,229.99 L634.43,228.78 L635.15,227.62 L635.91,226.49 L636.7,225.41 L637.52,224.37 L638.37,223.37 L639.25,222.42 L640.16,221.51 L641.1,220.65 L642.07,219.84 L643.07,219.07 L644.09,218.34 L645.15,217.67 L646.22,217.04 L647.32,216.46 L648.45,215.93 L649.6,215.45 L650.77,215.02 L651.96,214.64 L653.17,214.31 L654.41,214.03 L655.66,213.8 L656.93,213.62 L658.22,213.49 L659.53,213.41 L660.85,213.39 L662.19,213.41 L663.54,213.48 L664.9,213.61 L666.28,213.79 L667.66,214.02 L669.06,214.29 L670.46,214.62 L671.88,215 L673.3,215.43 L674.73,215.91 L676.16,216.43 L677.59,217.01 L679.03,217.63 L680.48,218.31 L681.92,219.03 L683.36,219.79 L684.81,220.61 L686.25,221.47 L687.68,222.37 L689.12,223.32 L690.55,224.32 L691.97,225.36 L693.39,226.44 L694.8,227.56 L696.2,228.72 L697.59,229.93 L698.97,231.17 L700.34,232.45 L701.7,233.77 L703.04,235.13 L704.37,236.52 L705.69,237.95 L706.98,239.41 L708.26,240.9 L709.53,242.43 L710.77,243.99 L712,245.57 L713.2,247.19 L714.38,248.83 L715.54,250.5 L716.68,252.2 L717.79,253.92 L718.88,255.66 L719.94,257.43 L720.98,259.21 L721.99,261.02 L722.97,262.84 L723.93,264.68 L724.86,266.53 L725.75,268.4 L726.62,270.28 L727.46,272.18 L728.26,274.08 L729.03,275.99 L729.77,277.91 L730.48,279.84 L731.16,281.77 L731.8,283.71 L732.4,285.65 L732.98,287.59 L733.51,289.52 L734.02,291.46 L734.48,293.4 L734.91,295.33 L735.3,297.25 L735.66,299.17 L735.98,301.08 L736.26,302.98 L736.51,304.86 L736.72,306.74 L736.89,308.6 L737.02,310.45 L737.12,312.28 L737.17,314.1 L737.19,315.89 Z" fill="none" stroke="#1e1e1e" stroke-width="1.4" />
</g>
<path d="M723.39,329.24 L723.37,331.02 L723.32,332.79 L723.22,334.53 L723.09,336.25 L722.92,337.94 L722.71,339.61 L722.46,341.25 L722.18,342.86 L721.85,344.44 L721.5,345.99 L721.1,347.51 L720.67,349 L720.2,350.45 L719.7,351.87 L719.16,353.26 L718.58,354.6 L717.97,355.91 L717.33,357.18 L716.65,358.42 L715.94,359.61 L715.19,360.76 L714.42,361.87 L713.61,362.93 L712.77,363.96 L711.89,364.94 L710.99,365.87 L710.06,366.76 L709.1,367.6 L708.11,368.4 L707.1,369.15 L706.06,369.85 L704.99,370.51 L703.89,371.11 L702.77,371.67 L701.63,372.18 L700.47,372.64 L699.28,373.05 L698.07,373.4 L696.84,373.71 L695.59,373.97 L694.32,374.17 L693.03,374.33 L691.73,374.43 L690.41,374.49 L689.07,374.49 L687.72,374.44 L686.36,374.34 L684.98,374.18 L683.59,373.98 L682.19,373.73 L680.78,373.42 L679.37,373.07 L677.94,372.66 L676.51,372.2 L675.07,371.7 L673.63,371.14 L672.19,370.54 L670.74,369.89 L669.29,369.19 L667.84,368.44 L666.39,367.65 L664.94,366.81 L663.49,365.92 L662.05,364.99 L660.61,364.01 L659.17,362.99 L657.74,361.92 L656.32,360.82 L654.91,359.67 L653.51,358.48 L652.11,357.25 L650.73,355.98 L649.36,354.67 L648,353.33 L646.66,351.94 L645.33,350.53 L644.02,349.07 L642.72,347.59 L641.45,346.07 L640.19,344.52 L638.95,342.94 L637.73,341.33 L636.53,339.69 L635.35,338.03 L634.19,336.33 L633.06,334.62 L631.96,332.88 L630.88,331.11 L629.82,329.33 L628.79,327.53 L627.79,325.7 L626.81,323.86 L625.87,322.01 L624.95,320.14 L624.07,318.25 L623.21,316.35 L622.38,314.45 L621.59,312.53 L620.83,310.6 L620.1,308.67 L619.41,306.73 L618.75,304.78 L618.12,302.84 L617.53,300.89 L616.97,298.94 L616.45,296.99 L615.96,295.04 L615.51,293.1 L615.1,291.17 L614.72,289.23 L614.38,287.31 L614.08,285.4 L613.81,283.49 L613.58,281.6 L613.39,279.72 L613.24,277.86 L613.13,276.01 L613.05,274.18 L613.01,272.36 L613.01,270.57 L613.05,268.79 L613.13,267.04 L613.24,265.31 L613.39,263.6 L613.58,261.92 L613.81,260.27 L614.08,258.64 L614.38,257.05 L614.72,255.48 L615.1,253.94 L615.51,252.44 L615.96,250.97 L616.45,249.53 L616.97,248.13 L617.53,246.77 L618.12,245.44 L618.75,244.15 L619.41,242.9 L620.1,241.68 L620.83,240.51 L621.59,239.38 L622.38,238.29 L623.21,237.25 L624.07,236.25 L624.95,235.29 L625.87,234.38 L626.81,233.51 L627.79,232.69 L628.79,231.92 L629.82,231.19 L630.88,230.51 L631.96,229.88 L633.06,229.3 L634.19,228.77 L635.35,228.29 L636.53,227.85 L637.73,227.47 L638.95,227.14 L640.19,226.85 L641.45,226.62 L642.72,226.44 L644.02,226.31 L645.33,226.23 L646.66,226.21 L648,226.23 L649.36,226.31 L650.73,226.43 L652.11,226.61 L653.51,226.84 L654.91,227.12 L656.32,227.45 L657.74,227.83 L659.17,228.26 L660.61,228.74 L662.05,229.27 L663.49,229.85 L664.94,230.48 L666.39,231.16 L667.84,231.88 L669.29,232.65 L670.74,233.47 L672.19,234.33 L673.63,235.24 L675.07,236.2 L676.51,237.2 L677.94,238.24 L679.37,239.33 L680.78,240.45 L682.19,241.62 L683.59,242.83 L684.98,244.08 L686.36,245.37 L687.72,246.7 L689.07,248.06 L690.41,249.46 L691.73,250.9 L693.03,252.36 L694.32,253.87 L695.59,255.4 L696.84,256.97 L698.07,258.56 L699.28,260.19 L700.47,261.84 L701.63,263.52 L702.77,265.22 L703.89,266.95 L704.99,268.7 L706.06,270.47 L707.1,272.27 L708.11,274.08 L709.1,275.91 L710.06,277.76 L710.99,279.63 L711.89,281.5 L712.77,283.4 L713.61,285.3 L714.42,287.21 L715.19,289.14 L715.94,291.07 L716.65,293 L717.33,294.94 L717.97,296.89 L718.58,298.84 L719.16,300.79 L719.7,302.74 L720.2,304.68 L720.67,306.63 L721.1,308.57 L721.5,310.5 L721.85,312.43 L722.18,314.35 L722.46,316.26 L722.71,318.15 L722.92,320.04 L723.09,321.91 L723.22,323.77 L723.32,325.61 L723.37,327.43 L723.39,329.24 Z" fill="none" stroke="#1e1e1e" stroke-width="1.4" />
<path d="M281.6,617.52 L280.01,618.25 L278.37,618.89 L276.68,619.43 L274.96,619.87 L273.2,620.21 L271.4,620.45 L269.56,620.59 L267.7,620.63 L265.81,620.56 L263.89,620.4 L261.94,620.13 L259.98,619.77 L257.99,619.3 L255.99,618.74 L253.98,618.07 L251.96,617.31 L249.93,616.45 L247.89,615.5 L245.86,614.45 L243.82,613.31 L241.79,612.08 L239.76,610.76 L237.75,609.35 L235.74,607.86 L233.75,606.28 L231.78,604.62 L229.83,602.88 L227.9,601.07 L225.99,599.18 L224.11,597.22 L222.27,595.19 L220.46,593.09 L218.68,590.93 L216.94,588.71 L215.24,586.43 L213.58,584.09 L211.97,581.71 L210.41,579.28 L208.89,576.8 L207.43,574.28 L206.02,571.73 L204.66,569.14 L203.36,566.51 L202.12,563.87 L200.94,561.19 L199.83,558.5 L198.77,555.79 L197.79,553.07 L196.86,550.34 L196.01,547.61 L195.23,544.87 L194.51,542.14 L193.87,539.41 L193.3,536.69 L192.8,533.99 L192.37,531.3 L192.02,528.64 L191.74,525.99 L191.54,523.38 L191.41,520.8 L191.36,518.25 L191.38,515.74 L191.48,513.28 L191.65,510.86 L191.9,508.49 L192.22,506.17 L192.62,503.9 L193.09,501.7 L193.63,499.55 L194.25,497.47 L194.93,495.46 L195.69,493.52 L196.51,491.65 L197.41,489.85 L198.37,488.13 L199.4,486.49 L200.49,484.94 L201.64,483.46 L202.86,482.08 L204.13,480.78 L205.47,479.57 L206.86,478.46 L208.3,477.43 L209.79,476.5 L211.34,475.67 L286.07,439.2 L287.66,438.46 L289.3,437.82 L290.98,437.28 L292.71,436.84 L294.47,436.5 L296.27,436.26 L298.1,436.13 L299.97,436.09 L301.86,436.15 L303.78,436.32 L305.72,436.58 L307.69,436.95 L309.67,437.41 L311.67,437.98 L313.68,438.64 L315.71,439.4 L317.74,440.26 L319.77,441.22 L321.81,442.26 L323.84,443.4 L325.88,444.63 L327.9,445.95 L329.92,447.36 L331.92,448.86 L333.91,450.43 L335.89,452.09 L337.84,453.83 L339.77,455.65 L341.68,457.54 L343.55,459.5 L345.4,461.53 L347.21,463.63 L348.99,465.79 L350.73,468.01 L352.43,470.29 L354.08,472.62 L355.7,475.01 L357.26,477.44 L358.78,479.92 L360.24,482.43 L361.65,484.99 L363.01,487.58 L364.3,490.2 L365.54,492.85 L366.72,495.52 L367.84,498.21 L368.89,500.92 L369.88,503.64 L370.8,506.37 L371.65,509.11 L372.44,511.84 L373.15,514.58 L373.8,517.3 L374.18,519.92 L374.18,522.37 L374.18,524.83 L374.18,527.31 L374.18,529.81 L374.18,532.32 L374.18,534.83 L374.18,537.35 L374.18,539.87 L374.18,542.39 L374.18,544.9 L374.18,547.4 L374.18,549.89 L374.18,552.36 L374.18,554.81 L374.04,557.16 L373.42,559.24 L372.73,561.26 L371.98,563.2 L371.15,565.07 L370.26,566.87 L369.3,568.59 L368.27,570.22 L367.18,571.78 L366.02,573.25 L364.81,574.64 L363.53,575.94 L362.2,577.14 L360.81,578.26 L359.37,579.28 L357.87,580.21 L356.33,581.05 Z" fill="#fff" stroke="#1e1e1e" stroke-width="1.3" />
<path d="M299.45,555.57 L374.18,519.09 L374.18,556.62 L299.45,593.09 Z" fill="#fff" stroke="#1e1e1e" stroke-width="1.3" />
<path d="M363.2,487.5 L372.3,486.4 L376.8,492 L376.8,514.5 L372.5,516 L372.5,492.5 Z" fill="#fff" stroke="#1e1e1e" stroke-width="1.3" />
<path d="M372.5,525.5 L379.5,524 L381,527 L381,539.5 L372.5,543 Z" fill="#fff" stroke="#1e1e1e" stroke-width="1.3" />
<path d="M223.67,648.8 L222.08,649.54 L220.45,650.18 L218.77,650.73 L217.05,651.18 L215.3,651.54 L213.51,651.8 L211.68,651.96 L209.83,652.02 L207.95,651.99 L206.04,651.85 L204.1,651.62 L202.15,651.3 L200.17,650.88 L198.18,650.36 L196.18,649.74 L194.16,649.03 L192.14,648.23 L190.11,647.33 L188.07,646.35 L186.04,645.27 L184.01,644.1 L181.98,642.85 L179.96,641.51 L177.94,640.08 L175.94,638.58 L173.96,636.99 L171.99,635.33 L170.04,633.58 L168.11,631.77 L166.21,629.88 L164.33,627.92 L162.49,625.9 L160.67,623.81 L158.89,621.66 L157.14,619.45 L155.44,617.19 L153.77,614.87 L152.15,612.5 L150.57,610.09 L149.04,607.63 L147.56,605.13 L146.13,602.59 L144.75,600.02 L143.42,597.41 L142.15,594.78 L140.94,592.12 L139.79,589.45 L138.7,586.75 L137.67,584.04 L136.7,581.32 L135.8,578.59 L134.97,575.86 L134.2,573.13 L133.5,570.4 L132.86,567.67 L132.3,564.96 L131.81,562.26 L131.38,559.57 L131.03,556.91 L130.75,554.27 L130.55,551.66 L130.41,549.08 L130.35,546.53 L130.36,544.01 L130.44,541.54 L130.6,539.11 L130.82,536.73 L131.12,534.4 L131.49,532.12 L131.94,529.89 L132.45,527.72 L133.03,525.62 L133.69,523.58 L134.41,521.6 L135.19,519.69 L136.05,517.85 L136.97,516.09 L137.95,514.4 L139,512.79 L140.11,511.26 L141.28,509.81 L142.5,508.45 L143.79,507.17 L145.13,505.97 L146.52,504.87 L147.97,503.85 L149.47,502.93 L151.01,502.1 L210.14,473.24 L211.73,472.51 L213.36,471.86 L215.04,471.32 L216.76,470.86 L218.51,470.51 L220.3,470.25 L222.13,470.09 L223.98,470.03 L225.86,470.06 L227.77,470.19 L229.71,470.42 L231.66,470.75 L233.64,471.17 L235.63,471.69 L237.63,472.3 L239.65,473.01 L241.67,473.82 L243.7,474.71 L245.74,475.7 L247.77,476.78 L249.8,477.94 L251.83,479.2 L253.85,480.54 L255.87,481.96 L257.87,483.47 L259.85,485.06 L261.82,486.72 L263.77,488.46 L265.7,490.28 L267.6,492.17 L269.48,494.12 L271.32,496.15 L273.14,498.23 L274.92,500.38 L276.67,502.59 L278.37,504.86 L280.04,507.17 L281.66,509.54 L283.24,511.96 L284.77,514.42 L286.25,516.92 L287.68,519.46 L289.06,522.03 L290.39,524.63 L291.66,527.26 L292.87,529.92 L294.02,532.6 L295.11,535.3 L296.14,538.01 L297.11,540.73 L298.01,543.46 L298.84,546.19 L299.45,548.84 L299.45,551.2 L299.45,553.59 L299.45,556.01 L299.45,558.45 L299.45,560.92 L299.45,563.4 L299.45,565.89 L299.45,568.39 L299.45,570.91 L299.45,573.42 L299.45,575.94 L299.45,578.45 L299.45,580.96 L299.45,583.47 L299.45,585.96 L299.45,588.43 L299.45,590.89 L299.45,593.32 L299.45,595.74 L299.45,598.12 L299.4,600.45 L298.62,602.36 L297.76,604.19 L296.84,605.96 L295.86,607.65 L294.81,609.26 L293.7,610.79 L292.53,612.24 L291.31,613.6 L290.02,614.88 L288.68,616.07 L287.29,617.18 L285.84,618.19 L284.35,619.12 L282.8,619.95 Z" fill="#fff" stroke="#1e1e1e" stroke-width="1.3" />
<path d="M151.01,502.1 L152.6,501.36 L154.24,500.72 L155.91,500.17 L157.63,499.72 L159.38,499.37 L161.18,499.11 L163,498.95 L164.85,498.88 L166.74,498.92 L168.65,499.05 L170.58,499.28 L172.54,499.61 L174.51,500.03 L176.5,500.55 L178.51,501.16 L180.52,501.87 L182.55,502.67 L184.58,503.57 L186.61,504.56 L188.64,505.63 L190.68,506.8 L192.71,508.06 L194.73,509.4 L196.74,510.82 L198.74,512.33 L200.73,513.91 L202.7,515.58 L204.65,517.32 L206.57,519.14 L208.48,521.02 L210.35,522.98 L212.2,525 L214.01,527.09 L215.79,529.24 L217.54,531.45 L219.25,533.71 L220.91,536.03 L222.53,538.4 L224.11,540.82 L225.64,543.27 L227.12,545.78 L228.56,548.31 L229.94,550.89 L231.26,553.49 L232.53,556.12 L233.74,558.78 L234.89,561.46 L235.98,564.15 L237.01,566.86 L237.98,569.58 L238.88,572.31 L239.72,575.05 L240.33,577.69 L240.33,580.06 L240.33,582.45 L240.33,584.87 L240.33,587.31 L240.33,589.77 L240.33,592.25 L240.33,594.75 L240.33,597.25 L240.33,599.76 L240.33,602.28 L240.33,604.8 L240.33,607.31 L240.33,609.82 L240.33,612.32 L240.33,614.81 L240.33,617.29 L240.33,619.75 L240.33,622.18 L240.33,624.59 L240.33,626.98 L240.28,629.31 L239.49,631.21 L238.64,633.05 L237.72,634.82 L236.73,636.5 L235.68,638.11 L234.58,639.64 L233.41,641.09 L232.18,642.46 L230.89,643.74 L229.55,644.93 L228.16,646.04 L226.71,647.05 L225.22,647.97 L223.67,648.8" fill="none" stroke="#1e1e1e" stroke-width="1.15" />
<path d="M157.58,498.89 L159.17,498.16 L160.8,497.51 L162.48,496.97 L164.2,496.52 L165.95,496.16 L167.75,495.9 L169.57,495.74 L171.42,495.68 L173.31,495.71 L175.22,495.84 L177.15,496.07 L179.11,496.4 L181.08,496.82 L183.07,497.34 L185.08,497.96 L187.09,498.67 L189.12,499.47 L191.15,500.36 L193.18,501.35 L195.21,502.43 L197.25,503.59 L199.28,504.85 L201.3,506.19 L203.31,507.61 L205.31,509.12 L207.3,510.71 L209.27,512.37 L211.22,514.11 L213.14,515.93 L215.05,517.82 L216.92,519.77 L218.77,521.8 L220.58,523.89 L222.36,526.03 L224.11,528.24 L225.81,530.51 L227.48,532.83 L229.1,535.19 L230.68,537.61 L232.21,540.07 L233.69,542.57 L235.13,545.11 L236.51,547.68 L237.83,550.28 L239.1,552.92 L240.31,555.57 L241.46,558.25 L242.55,560.95 L243.58,563.66 L244.55,566.38 L245.45,569.11 L246.29,571.84 L246.9,574.49 L246.9,576.85 L246.9,579.24 L246.9,581.66 L246.9,584.1 L246.9,586.57 L246.9,589.05 L246.9,591.54 L246.9,594.04 L246.9,596.56 L246.9,599.07 L246.9,601.59 L246.9,604.11 L246.9,606.62 L246.9,609.12 L246.9,611.61 L246.9,614.08 L246.9,616.54 L246.9,618.97 L246.9,621.39 L246.9,623.77 L246.85,626.1 L246.06,628.01 L245.21,629.85 L244.29,631.61 L243.3,633.3 L242.25,634.91 L241.15,636.44 L239.98,637.89 L238.75,639.25 L237.46,640.53 L236.12,641.72 L234.73,642.83 L233.28,643.84 L231.79,644.77 L230.24,645.6" fill="none" stroke="#1e1e1e" stroke-width="1.15" />
<path d="M164.15,495.69 L165.74,494.95 L167.37,494.31 L169.05,493.76 L170.77,493.31 L172.52,492.95 L174.31,492.7 L176.14,492.53 L177.99,492.47 L179.88,492.51 L181.79,492.64 L183.72,492.87 L185.68,493.19 L187.65,493.62 L189.64,494.14 L191.65,494.75 L193.66,495.46 L195.68,496.26 L197.71,497.16 L199.75,498.14 L201.78,499.22 L203.82,500.39 L205.85,501.64 L207.87,502.98 L209.88,504.41 L211.88,505.91 L213.87,507.5 L215.84,509.17 L217.78,510.91 L219.71,512.72 L221.62,514.61 L223.49,516.57 L225.34,518.59 L227.15,520.68 L228.93,522.83 L230.68,525.04 L232.38,527.3 L234.05,529.62 L235.67,531.99 L237.25,534.4 L238.78,536.86 L240.26,539.36 L241.7,541.9 L243.07,544.47 L244.4,547.08 L245.67,549.71 L246.88,552.37 L248.03,555.04 L249.12,557.74 L250.15,560.45 L251.12,563.17 L252.02,565.9 L252.86,568.63 L253.47,571.28 L253.47,573.65 L253.47,576.04 L253.47,578.46 L253.47,580.9 L253.47,583.36 L253.47,585.84 L253.47,588.33 L253.47,590.84 L253.47,593.35 L253.47,595.87 L253.47,598.38 L253.47,600.9 L253.47,603.41 L253.47,605.91 L253.47,608.4 L253.47,610.88 L253.47,613.33 L253.47,615.77 L253.47,618.18 L253.47,620.56 L253.42,622.89 L252.63,624.8 L251.77,626.64 L250.85,628.4 L249.87,630.09 L248.82,631.7 L247.72,633.23 L246.55,634.68 L245.32,636.05 L244.03,637.33 L242.69,638.52 L241.3,639.62 L239.85,640.64 L238.36,641.56 L236.81,642.39" fill="none" stroke="#1e1e1e" stroke-width="1.15" />
<path d="M170.72,492.48 L172.31,491.74 L173.94,491.1 L175.62,490.55 L177.34,490.1 L179.09,489.75 L180.88,489.49 L182.71,489.33 L184.56,489.27 L186.45,489.3 L188.36,489.43 L190.29,489.66 L192.25,489.99 L194.22,490.41 L196.21,490.93 L198.21,491.54 L200.23,492.25 L202.25,493.06 L204.28,493.95 L206.32,494.94 L208.35,496.02 L210.39,497.18 L212.41,498.44 L214.44,499.78 L216.45,501.2 L218.45,502.71 L220.44,504.29 L222.41,505.96 L224.35,507.7 L226.28,509.52 L228.18,511.4 L230.06,513.36 L231.91,515.38 L233.72,517.47 L235.5,519.62 L237.25,521.83 L238.95,524.1 L240.62,526.41 L242.24,528.78 L243.82,531.2 L245.35,533.66 L246.83,536.16 L248.27,538.69 L249.64,541.27 L250.97,543.87 L252.24,546.5 L253.45,549.16 L254.6,551.84 L255.69,554.53 L256.72,557.24 L257.69,559.96 L258.59,562.69 L259.43,565.43 L260.04,568.08 L260.04,570.44 L260.04,572.83 L260.04,575.25 L260.04,577.69 L260.04,580.15 L260.04,582.63 L260.04,585.13 L260.04,587.63 L260.04,590.14 L260.04,592.66 L260.04,595.18 L260.04,597.69 L260.04,600.2 L260.04,602.7 L260.04,605.19 L260.04,607.67 L260.04,610.13 L260.04,612.56 L260.04,614.97 L260.04,617.36 L259.99,619.69 L259.2,621.6 L258.34,623.43 L257.42,625.2 L256.44,626.88 L255.39,628.5 L254.28,630.03 L253.12,631.47 L251.89,632.84 L250.6,634.12 L249.26,635.31 L247.87,636.42 L246.42,637.43 L244.93,638.35 L243.38,639.18" fill="none" stroke="#1e1e1e" stroke-width="1.15" />
<path d="M177.29,489.27 L178.88,488.54 L180.51,487.9 L182.19,487.35 L183.91,486.9 L185.66,486.54 L187.45,486.28 L189.28,486.12 L191.13,486.06 L193.02,486.09 L194.93,486.22 L196.86,486.45 L198.82,486.78 L200.79,487.2 L202.78,487.72 L204.78,488.34 L206.8,489.05 L208.82,489.85 L210.85,490.74 L212.89,491.73 L214.92,492.81 L216.96,493.98 L218.98,495.23 L221.01,496.57 L223.02,497.99 L225.02,499.5 L227.01,501.09 L228.97,502.75 L230.92,504.49 L232.85,506.31 L234.75,508.2 L236.63,510.15 L238.48,512.18 L240.29,514.27 L242.07,516.42 L243.82,518.62 L245.52,520.89 L247.19,523.21 L248.81,525.57 L250.39,527.99 L251.92,530.45 L253.4,532.95 L254.83,535.49 L256.21,538.06 L257.54,540.66 L258.81,543.3 L260.02,545.95 L261.17,548.63 L262.26,551.33 L263.29,554.04 L264.26,556.76 L265.16,559.49 L266,562.22 L266.61,564.87 L266.61,567.23 L266.61,569.62 L266.61,572.04 L266.61,574.49 L266.61,576.95 L266.61,579.43 L266.61,581.92 L266.61,584.43 L266.61,586.94 L266.61,589.45 L266.61,591.97 L266.61,594.49 L266.61,597 L266.61,599.5 L266.61,601.99 L266.61,604.46 L266.61,606.92 L266.61,609.36 L266.61,611.77 L266.61,614.15 L266.56,616.48 L265.77,618.39 L264.91,620.23 L263.99,621.99 L263.01,623.68 L261.96,625.29 L260.85,626.82 L259.69,628.27 L258.46,629.63 L257.17,630.91 L255.83,632.11 L254.44,633.21 L252.99,634.22 L251.5,635.15 L249.95,635.98" fill="none" stroke="#1e1e1e" stroke-width="1.15" />
<path d="M183.86,486.07 L185.45,485.33 L187.08,484.69 L188.76,484.14 L190.48,483.69 L192.23,483.33 L194.02,483.08 L195.85,482.92 L197.7,482.85 L199.59,482.89 L201.5,483.02 L203.43,483.25 L205.39,483.57 L207.36,484 L209.35,484.52 L211.35,485.13 L213.37,485.84 L215.39,486.64 L217.42,487.54 L219.46,488.53 L221.49,489.6 L223.53,490.77 L225.55,492.02 L227.58,493.36 L229.59,494.79 L231.59,496.29 L233.58,497.88 L235.54,499.55 L237.49,501.29 L239.42,503.1 L241.32,504.99 L243.2,506.95 L245.05,508.97 L246.86,511.06 L248.64,513.21 L250.39,515.42 L252.09,517.68 L253.76,520 L255.38,522.37 L256.96,524.78 L258.49,527.24 L259.97,529.74 L261.4,532.28 L262.78,534.85 L264.11,537.46 L265.38,540.09 L266.59,542.75 L267.74,545.43 L268.83,548.12 L269.86,550.83 L270.83,553.55 L271.73,556.28 L272.57,559.01 L273.17,561.66 L273.17,564.03 L273.17,566.42 L273.17,568.84 L273.17,571.28 L273.17,573.74 L273.17,576.22 L273.17,578.71 L273.17,581.22 L273.17,583.73 L273.17,586.25 L273.17,588.76 L273.17,591.28 L273.17,593.79 L273.17,596.29 L273.17,598.78 L273.17,601.26 L273.17,603.71 L273.17,606.15 L273.17,608.56 L273.17,610.95 L273.13,613.27 L272.34,615.18 L271.48,617.02 L270.56,618.78 L269.58,620.47 L268.53,622.08 L267.42,623.61 L266.26,625.06 L265.03,626.43 L263.74,627.71 L262.4,628.9 L261.01,630 L259.56,631.02 L258.07,631.94 L256.52,632.77" fill="none" stroke="#1e1e1e" stroke-width="1.15" />
<path d="M190.43,482.86 L192.02,482.13 L193.65,481.48 L195.33,480.93 L197.05,480.48 L198.8,480.13 L200.59,479.87 L202.42,479.71 L204.27,479.65 L206.16,479.68 L208.07,479.81 L210,480.04 L211.95,480.37 L213.93,480.79 L215.92,481.31 L217.92,481.92 L219.94,482.63 L221.96,483.44 L223.99,484.33 L226.03,485.32 L228.06,486.4 L230.09,487.56 L232.12,488.82 L234.15,490.16 L236.16,491.58 L238.16,493.09 L240.14,494.67 L242.11,496.34 L244.06,498.08 L245.99,499.9 L247.89,501.78 L249.77,503.74 L251.62,505.77 L253.43,507.85 L255.21,510 L256.96,512.21 L258.66,514.48 L260.33,516.79 L261.95,519.16 L263.53,521.58 L265.06,524.04 L266.54,526.54 L267.97,529.08 L269.35,531.65 L270.68,534.25 L271.95,536.88 L273.16,539.54 L274.31,542.22 L275.4,544.91 L276.43,547.62 L277.4,550.35 L278.3,553.07 L279.13,555.81 L279.74,558.46 L279.74,560.82 L279.74,563.21 L279.74,565.63 L279.74,568.07 L279.74,570.54 L279.74,573.01 L279.74,575.51 L279.74,578.01 L279.74,580.52 L279.74,583.04 L279.74,585.56 L279.74,588.07 L279.74,590.58 L279.74,593.08 L279.74,595.57 L279.74,598.05 L279.74,600.51 L279.74,602.94 L279.74,605.35 L279.74,607.74 L279.7,610.07 L278.91,611.98 L278.05,613.81 L277.13,615.58 L276.15,617.27 L275.1,618.88 L273.99,620.41 L272.82,621.86 L271.6,623.22 L270.31,624.5 L268.97,625.69 L267.58,626.8 L266.13,627.81 L264.64,628.73 L263.09,629.57" fill="none" stroke="#1e1e1e" stroke-width="1.15" />
<path d="M197,479.66 L198.59,478.92 L200.22,478.28 L201.9,477.73 L203.62,477.28 L205.37,476.92 L207.16,476.66 L208.99,476.5 L210.84,476.44 L212.73,476.47 L214.64,476.61 L216.57,476.83 L218.52,477.16 L220.5,477.58 L222.49,478.1 L224.49,478.72 L226.51,479.43 L228.53,480.23 L230.56,481.13 L232.6,482.11 L234.63,483.19 L236.66,484.36 L238.69,485.61 L240.72,486.95 L242.73,488.37 L244.73,489.88 L246.71,491.47 L248.68,493.13 L250.63,494.88 L252.56,496.69 L254.46,498.58 L256.34,500.54 L258.19,502.56 L260,504.65 L261.78,506.8 L263.53,509 L265.23,511.27 L266.9,513.59 L268.52,515.96 L270.1,518.37 L271.63,520.83 L273.11,523.33 L274.54,525.87 L275.92,528.44 L277.25,531.05 L278.52,533.68 L279.73,536.33 L280.88,539.01 L281.97,541.71 L283,544.42 L283.97,547.14 L284.87,549.87 L285.7,552.6 L286.31,555.25 L286.31,557.61 L286.31,560.01 L286.31,562.42 L286.31,564.87 L286.31,567.33 L286.31,569.81 L286.31,572.3 L286.31,574.81 L286.31,577.32 L286.31,579.83 L286.31,582.35 L286.31,584.87 L286.31,587.38 L286.31,589.88 L286.31,592.37 L286.31,594.84 L286.31,597.3 L286.31,599.74 L286.31,602.15 L286.31,604.53 L286.27,606.86 L285.48,608.77 L284.62,610.61 L283.7,612.37 L282.72,614.06 L281.67,615.67 L280.56,617.2 L279.39,618.65 L278.17,620.01 L276.88,621.29 L275.54,622.49 L274.15,623.59 L272.7,624.61 L271.21,625.53 L269.66,626.36" fill="none" stroke="#1e1e1e" stroke-width="1.15" />
<path d="M203.57,476.45 L205.16,475.71 L206.79,475.07 L208.47,474.52 L210.19,474.07 L211.94,473.72 L213.73,473.46 L215.56,473.3 L217.41,473.23 L219.3,473.27 L221.21,473.4 L223.14,473.63 L225.09,473.95 L227.07,474.38 L229.06,474.9 L231.06,475.51 L233.08,476.22 L235.1,477.02 L237.13,477.92 L239.17,478.91 L241.2,479.98 L243.23,481.15 L245.26,482.4 L247.28,483.74 L249.3,485.17 L251.3,486.67 L253.28,488.26 L255.25,489.93 L257.2,491.67 L259.13,493.48 L261.03,495.37 L262.91,497.33 L264.76,499.35 L266.57,501.44 L268.35,503.59 L270.1,505.8 L271.8,508.06 L273.47,510.38 L275.09,512.75 L276.67,515.16 L278.2,517.62 L279.68,520.12 L281.11,522.66 L282.49,525.23 L283.82,527.84 L285.09,530.47 L286.3,533.13 L287.45,535.81 L288.54,538.5 L289.57,541.21 L290.54,543.93 L291.44,546.66 L292.27,549.39 L292.88,552.04 L292.88,554.41 L292.88,556.8 L292.88,559.22 L292.88,561.66 L292.88,564.12 L292.88,566.6 L292.88,569.1 L292.88,571.6 L292.88,574.11 L292.88,576.63 L292.88,579.15 L292.88,581.66 L292.88,584.17 L292.88,586.67 L292.88,589.16 L292.88,591.64 L292.88,594.09 L292.88,596.53 L292.88,598.94 L292.88,601.33 L292.83,603.65 L292.05,605.56 L291.19,607.4 L290.27,609.16 L289.29,610.85 L288.24,612.46 L287.13,613.99 L285.96,615.44 L284.74,616.81 L283.45,618.09 L282.11,619.28 L280.72,620.38 L279.27,621.4 L277.78,622.32 L276.23,623.15" fill="none" stroke="#1e1e1e" stroke-width="1.15" />
<path d="M210.14,473.24 L211.73,472.51 L213.36,471.86 L215.04,471.32 L216.76,470.86 L218.51,470.51 L220.3,470.25 L222.13,470.09 L223.98,470.03 L225.86,470.06 L227.77,470.19 L229.71,470.42 L231.66,470.75 L233.64,471.17 L235.63,471.69 L237.63,472.3 L239.65,473.01 L241.67,473.82 L243.7,474.71 L245.74,475.7 L247.77,476.78 L249.8,477.94 L251.83,479.2 L253.85,480.54 L255.87,481.96 L257.87,483.47 L259.85,485.06 L261.82,486.72 L263.77,488.46 L265.7,490.28 L267.6,492.17 L269.48,494.12 L271.32,496.15 L273.14,498.23 L274.92,500.38 L276.67,502.59 L278.37,504.86 L280.04,507.17 L281.66,509.54 L283.24,511.96 L284.77,514.42 L286.25,516.92 L287.68,519.46 L289.06,522.03 L290.39,524.63 L291.66,527.26 L292.87,529.92 L294.02,532.6 L295.11,535.3 L296.14,538.01 L297.11,540.73 L298.01,543.46 L298.84,546.19 L299.45,548.84 L299.45,551.2 L299.45,553.59 L299.45,556.01 L299.45,558.45 L299.45,560.92 L299.45,563.4 L299.45,565.89 L299.45,568.39 L299.45,570.91 L299.45,573.42 L299.45,575.94 L299.45,578.45 L299.45,580.96 L299.45,583.47 L299.45,585.96 L299.45,588.43 L299.45,590.89 L299.45,593.32 L299.45,595.74 L299.45,598.12 L299.4,600.45 L298.62,602.36 L297.76,604.19 L296.84,605.96 L295.86,607.65 L294.81,609.26 L293.7,610.79 L292.53,612.24 L291.31,613.6 L290.02,614.88 L288.68,616.07 L287.29,617.18 L285.84,618.19 L284.35,619.12 L282.8,619.95" fill="none" stroke="#1e1e1e" stroke-width="1.15" />
<path d="M240.33,577.19 L243.61,580.43 L246.9,573.98 L250.18,577.23 L253.47,570.78 L256.75,574.02 L260.04,567.57 L263.32,570.81 L266.61,564.37 L269.89,567.61 L273.17,561.16 L276.46,564.4 L279.74,557.95 L283.03,561.19 L286.31,554.75 L289.6,557.99 L292.88,551.54 L296.17,554.78 L299.45,548.33 L299.45,555.57 L374.18,519.09 L374.18,556.62 L299.45,593.09 L299.45,600.32 L296.17,597.08 L292.88,603.53 L289.6,600.29 L286.31,606.73 L283.03,603.49 L279.74,609.94 L276.46,606.7 L273.17,613.15 L269.89,609.91 L266.61,616.35 L263.32,613.11 L260.04,619.56 L256.75,616.32 L253.47,622.77 L250.18,619.52 L246.9,625.97 L243.61,622.73 L240.33,629.18 Z" fill="#fff" stroke="#1e1e1e" stroke-width="1.3" />
<path d="M203.59,672.08 L202,672.82 L200.38,673.48 L198.71,674.06 L197.01,674.55 L195.28,674.96 L193.51,675.29 L191.72,675.53 L189.89,675.69 L188.04,675.76 L186.16,675.75 L184.26,675.65 L182.34,675.47 L180.39,675.2 L178.43,674.85 L176.46,674.42 L174.46,673.9 L172.46,673.29 L170.45,672.61 L168.43,671.84 L166.4,670.99 L164.37,670.06 L162.33,669.06 L160.3,667.97 L158.26,666.8 L156.23,665.56 L154.21,664.25 L152.19,662.86 L150.18,661.39 L148.19,659.86 L146.21,658.26 L144.24,656.59 L142.29,654.85 L140.35,653.05 L138.44,651.18 L136.56,649.25 L134.69,647.27 L132.85,645.22 L131.04,643.12 L129.26,640.97 L127.52,638.77 L125.8,636.51 L124.12,634.21 L122.48,631.87 L120.87,629.48 L119.31,627.05 L117.78,624.59 L116.3,622.09 L114.86,619.55 L113.47,616.99 L112.13,614.39 L110.83,611.77 L109.58,609.13 L108.38,606.47 L107.24,603.79 L106.15,601.09 L105.11,598.38 L104.12,595.67 L103.2,592.94 L102.32,590.21 L101.51,587.47 L100.76,584.74 L100.06,582.01 L99.42,579.29 L98.85,576.57 L98.33,573.86 L97.88,571.17 L97.49,568.5 L97.16,565.84 L96.89,563.2 L96.69,560.59 L96.55,558.01 L96.47,555.45 L96.46,552.93 L96.51,550.44 L96.62,547.98 L96.8,545.56 L97.04,543.19 L97.34,540.86 L97.7,538.57 L98.13,536.33 L98.61,534.14 L99.16,532.01 L99.77,529.92 L100.44,527.9 L101.17,525.93 L101.96,524.02 L102.81,522.17 L103.71,520.39 L104.67,518.67 L105.68,517.02 L106.75,515.43 L107.87,513.92 L109.05,512.48 L110.27,511.11 L111.55,509.82 L112.87,508.6 L114.25,507.46 L115.66,506.39 L117.13,505.41 L118.63,504.5 L120.18,503.68 L145.64,491.25 L147.22,490.51 L148.85,489.85 L150.52,489.27 L152.22,488.78 L153.95,488.36 L155.71,488.04 L157.51,487.8 L159.34,487.64 L161.19,487.57 L163.07,487.58 L164.97,487.68 L166.89,487.86 L168.83,488.12 L170.79,488.48 L172.77,488.91 L174.76,489.43 L176.77,490.03 L178.78,490.72 L180.8,491.49 L182.83,492.34 L184.86,493.27 L186.89,494.27 L188.93,495.36 L190.96,496.53 L192.99,497.77 L195.02,499.08 L197.03,500.47 L199.04,501.93 L201.04,503.47 L203.02,505.07 L204.99,506.74 L206.94,508.48 L208.87,510.28 L210.78,512.15 L212.67,514.08 L214.54,516.06 L216.37,518.11 L218.18,520.21 L219.96,522.36 L221.71,524.56 L223.43,526.82 L225.1,529.12 L226.75,531.46 L228.35,533.85 L229.92,536.28 L231.44,538.74 L232.93,541.24 L234.36,543.78 L235.76,546.34 L237.1,548.94 L238.4,551.55 L239.65,554.2 L240.84,556.86 L241.99,559.54 L243.08,562.24 L244.12,564.94 L245.1,567.66 L246.03,570.39 L246.9,573.12 L247.72,575.86 L248.47,578.59 L249.17,581.32 L249.8,584.04 L250.38,586.76 L250.89,589.46 L251.35,592.16 L251.74,594.83 L252.07,597.49 L252.33,600.12 L252.54,602.74 L252.68,605.32 L252.75,607.88 L252.77,610.4 L252.72,612.89 L252.61,615.35 L252.43,617.76 L252.19,620.14 L251.89,622.47 L251.53,624.76 L251.1,627 L250.61,629.19 L250.06,631.32 L249.45,633.41 L248.78,635.43 L248.05,637.4 L247.27,639.31 L246.42,641.16 L245.52,642.94 L244.56,644.66 L243.54,646.31 L242.48,647.9 L241.35,649.41 L240.18,650.85 L238.95,652.22 L237.68,653.51 L236.35,654.73 L234.98,655.87 L233.56,656.94 L232.1,657.92 L230.6,658.83 L229.05,659.65 Z" fill="#fff" stroke="#1e1e1e" stroke-width="1.3" />
<path d="M134.96,496.46 L136.55,495.72 L138.18,495.06 L139.84,494.48 L141.54,493.99 L143.27,493.57 L145.04,493.25 L146.84,493.01 L148.66,492.85 L150.51,492.78 L152.39,492.79 L154.29,492.89 L156.22,493.07 L158.16,493.34 L160.12,493.69 L162.1,494.12 L164.09,494.64 L166.09,495.25 L168.1,495.93 L170.12,496.7 L172.15,497.55 L174.18,498.48 L176.22,499.48 L178.25,500.57 L180.29,501.74 L182.32,502.98 L184.34,504.29 L186.36,505.68 L188.37,507.15 L190.36,508.68 L192.35,510.28 L194.31,511.95 L196.26,513.69 L198.2,515.49 L200.11,517.36 L202,519.29 L203.86,521.27 L205.7,523.32 L207.51,525.42 L209.29,527.57 L211.03,529.77 L212.75,532.03 L214.43,534.33 L216.07,536.67 L217.68,539.06 L219.24,541.49 L220.77,543.95 L222.25,546.45 L223.69,548.99 L225.08,551.55 L226.43,554.15 L227.72,556.77 L228.97,559.41 L230.17,562.07 L231.31,564.75 L232.41,567.45 L233.44,570.16 L234.43,572.87 L235.36,575.6 L236.23,578.33 L237.04,581.07 L237.79,583.8 L238.49,586.53 L239.13,589.25 L239.7,591.97 L240.22,594.67 L240.67,597.37 L241.06,600.04 L241.39,602.7 L241.66,605.33 L241.86,607.95 L242,610.53 L242.08,613.09 L242.09,615.61 L242.04,618.1 L241.93,620.56 L241.75,622.97 L241.52,625.35 L241.21,627.68 L240.85,629.97 L240.42,632.21 L239.94,634.4 L239.39,636.53 L238.78,638.62 L238.11,640.64 L237.38,642.61 L236.59,644.52 L235.75,646.37 L234.84,648.15 L233.88,649.87 L232.87,651.52 L231.8,653.11 L230.68,654.62 L229.5,656.06 L228.28,657.43 L227,658.72 L225.68,659.94 L224.31,661.08 L222.89,662.15 L221.43,663.13 L219.92,664.04 L218.37,664.86" fill="none" stroke="#1e1e1e" stroke-width="1.0" />
<path d="M139.89,494.06 L141.48,493.32 L143.1,492.65 L144.77,492.08 L146.47,491.58 L148.2,491.17 L149.97,490.84 L151.76,490.6 L153.59,490.44 L155.44,490.37 L157.32,490.38 L159.22,490.48 L161.14,490.66 L163.09,490.93 L165.05,491.28 L167.02,491.72 L169.01,492.24 L171.02,492.84 L173.03,493.53 L175.05,494.29 L177.08,495.14 L179.11,496.07 L181.15,497.08 L183.18,498.17 L185.21,499.33 L187.24,500.57 L189.27,501.89 L191.29,503.28 L193.29,504.74 L195.29,506.27 L197.27,507.88 L199.24,509.55 L201.19,511.29 L203.12,513.09 L205.03,514.95 L206.92,516.88 L208.79,518.87 L210.62,520.91 L212.43,523.01 L214.21,525.16 L215.96,527.37 L217.68,529.62 L219.36,531.92 L221,534.27 L222.61,536.65 L224.17,539.08 L225.7,541.55 L227.18,544.05 L228.61,546.58 L230.01,549.15 L231.35,551.74 L232.65,554.36 L233.9,557 L235.09,559.67 L236.24,562.35 L237.33,565.04 L238.37,567.75 L239.35,570.47 L240.28,573.2 L241.15,575.93 L241.97,578.66 L242.72,581.39 L243.42,584.12 L244.05,586.85 L244.63,589.56 L245.14,592.27 L245.6,594.96 L245.99,597.64 L246.32,600.29 L246.58,602.93 L246.79,605.54 L246.93,608.13 L247.01,610.68 L247.02,613.21 L246.97,615.7 L246.86,618.15 L246.68,620.57 L246.44,622.95 L246.14,625.28 L245.78,627.56 L245.35,629.8 L244.86,631.99 L244.31,634.13 L243.71,636.21 L243.04,638.24 L242.31,640.21 L241.52,642.12 L240.67,643.96 L239.77,645.75 L238.81,647.47 L237.8,649.12 L236.73,650.7 L235.6,652.21 L234.43,653.65 L233.2,655.02 L231.93,656.32 L230.6,657.54 L229.23,658.68 L227.82,659.74 L226.35,660.73 L224.85,661.63 L223.3,662.46" fill="none" stroke="#1e1e1e" stroke-width="1.0" />
<path d="M143.17,492.46 L144.76,491.71 L146.39,491.05 L148.05,490.47 L149.75,489.98 L151.49,489.57 L153.25,489.24 L155.05,489 L156.87,488.84 L158.73,488.77 L160.6,488.78 L162.5,488.88 L164.43,489.06 L166.37,489.33 L168.33,489.68 L170.31,490.11 L172.3,490.63 L174.3,491.24 L176.31,491.92 L178.34,492.69 L180.36,493.54 L182.4,494.47 L184.43,495.48 L186.47,496.56 L188.5,497.73 L190.53,498.97 L192.55,500.28 L194.57,501.67 L196.58,503.14 L198.57,504.67 L200.56,506.27 L202.53,507.95 L204.48,509.68 L206.41,511.49 L208.32,513.35 L210.21,515.28 L212.07,517.26 L213.91,519.31 L215.72,521.41 L217.5,523.56 L219.25,525.76 L220.96,528.02 L222.64,530.32 L224.28,532.66 L225.89,535.05 L227.46,537.48 L228.98,539.94 L230.46,542.45 L231.9,544.98 L233.29,547.55 L234.64,550.14 L235.93,552.76 L237.18,555.4 L238.38,558.06 L239.52,560.74 L240.62,563.44 L241.66,566.15 L242.64,568.87 L243.57,571.59 L244.44,574.32 L245.25,577.06 L246.01,579.79 L246.7,582.52 L247.34,585.25 L247.91,587.96 L248.43,590.67 L248.88,593.36 L249.27,596.03 L249.6,598.69 L249.87,601.33 L250.07,603.94 L250.21,606.52 L250.29,609.08 L250.3,611.6 L250.25,614.1 L250.14,616.55 L249.97,618.97 L249.73,621.34 L249.43,623.67 L249.06,625.96 L248.64,628.2 L248.15,630.39 L247.6,632.53 L246.99,634.61 L246.32,636.64 L245.59,638.6 L244.8,640.51 L243.96,642.36 L243.05,644.14 L242.1,645.86 L241.08,647.51 L240.01,649.1 L238.89,650.61 L237.72,652.05 L236.49,653.42 L235.21,654.71 L233.89,655.93 L232.52,657.07 L231.1,658.14 L229.64,659.12 L228.13,660.03 L226.58,660.85" fill="none" stroke="#1e1e1e" stroke-width="1.0" />
<path d="M203.42,683.06 L201.84,683.81 L200.23,684.48 L198.58,685.07 L196.9,685.59 L195.19,686.04 L193.45,686.41 L191.68,686.71 L189.88,686.93 L188.06,687.07 L186.21,687.13 L184.34,687.12 L182.45,687.04 L180.54,686.88 L178.61,686.64 L176.67,686.32 L174.71,685.93 L172.73,685.47 L170.75,684.93 L168.75,684.31 L166.75,683.62 L164.73,682.86 L162.71,682.02 L160.69,681.11 L158.67,680.13 L156.64,679.08 L154.61,677.96 L152.59,676.77 L150.57,675.51 L148.55,674.19 L146.55,672.8 L144.55,671.34 L142.56,669.82 L140.58,668.24 L138.62,666.59 L136.67,664.89 L134.73,663.12 L132.82,661.3 L130.92,659.42 L129.05,657.49 L127.19,655.51 L125.36,653.47 L123.56,651.38 L121.78,649.25 L120.03,647.07 L118.31,644.84 L116.62,642.57 L114.97,640.26 L113.34,637.91 L111.75,635.52 L110.2,633.1 L108.68,630.64 L107.2,628.16 L105.77,625.64 L104.37,623.09 L103.01,620.52 L101.7,617.92 L100.43,615.3 L99.2,612.66 L98.02,610.01 L96.89,607.33 L95.81,604.65 L94.77,601.95 L93.78,599.25 L92.84,596.53 L91.96,593.81 L91.12,591.09 L90.34,588.37 L89.61,585.65 L88.93,582.93 L88.31,580.22 L87.74,577.51 L87.23,574.82 L86.77,572.14 L86.37,569.47 L86.02,566.82 L85.73,564.18 L85.49,561.57 L85.31,558.98 L85.19,556.41 L85.13,553.87 L85.12,551.36 L85.17,548.88 L85.27,546.43 L85.44,544.02 L85.66,541.64 L85.93,539.3 L86.26,537 L86.65,534.74 L87.09,532.53 L87.59,530.36 L88.15,528.24 L88.75,526.16 L89.42,524.14 L90.13,522.17 L90.9,520.25 L91.72,518.39 L92.59,516.58 L93.51,514.83 L94.49,513.14 L95.51,511.51 L96.58,509.95 L97.7,508.44 L98.87,507 L100.08,505.63 L101.34,504.32 L102.64,503.08 L103.98,501.91 L105.37,500.8 L106.8,499.77 L108.26,498.81 L109.77,497.92 L111.31,497.1 L115.83,494.9 L117.41,494.15 L119.02,493.48 L120.67,492.89 L122.35,492.36 L124.06,491.92 L125.81,491.55 L127.58,491.25 L129.37,491.03 L131.19,490.89 L133.04,490.82 L134.91,490.83 L136.8,490.92 L138.71,491.08 L140.64,491.32 L142.58,491.63 L144.55,492.03 L146.52,492.49 L148.51,493.03 L150.5,493.65 L152.51,494.34 L154.52,495.1 L156.54,495.94 L158.56,496.84 L160.59,497.82 L162.61,498.88 L164.64,500 L166.66,501.19 L168.68,502.44 L170.7,503.77 L172.71,505.16 L174.71,506.62 L176.7,508.14 L178.67,509.72 L180.64,511.37 L182.59,513.07 L184.52,514.84 L186.44,516.66 L188.33,518.54 L190.21,520.47 L192.06,522.45 L193.89,524.49 L195.69,526.57 L197.47,528.71 L199.22,530.89 L200.94,533.12 L202.63,535.39 L204.29,537.7 L205.91,540.05 L207.5,542.43 L209.05,544.86 L210.57,547.31 L212.05,549.8 L213.49,552.32 L214.89,554.87 L216.24,557.44 L217.56,560.04 L218.83,562.66 L220.05,565.3 L221.23,567.95 L222.36,570.62 L223.45,573.31 L224.48,576.01 L225.47,578.71 L226.41,581.43 L227.29,584.14 L228.13,586.87 L228.91,589.59 L229.64,592.31 L230.32,595.03 L230.94,597.74 L231.51,600.44 L232.03,603.14 L232.48,605.82 L232.89,608.49 L233.23,611.14 L233.53,613.77 L233.76,616.39 L233.94,618.98 L234.06,621.54 L234.13,624.08 L234.13,626.6 L234.08,629.08 L233.98,631.52 L233.82,633.94 L233.6,636.32 L233.32,638.66 L232.99,640.96 L232.6,643.21 L232.16,645.43 L231.66,647.6 L231.11,649.72 L230.5,651.79 L229.84,653.82 L229.12,655.79 L228.35,657.71 L227.53,659.57 L226.66,661.38 L225.74,663.13 L224.77,664.82 L223.74,666.45 L222.67,668.01 L221.55,669.52 L220.39,670.96 L219.17,672.33 L217.92,673.64 L216.61,674.88 L215.27,676.05 L213.88,677.16 L212.46,678.19 L210.99,679.15 L209.48,680.04 L207.94,680.86 Z" fill="#fff" stroke="#1e1e1e" stroke-width="1.3" />
<path d="M111.31,497.1 L112.89,496.36 L114.51,495.69 L116.16,495.09 L117.84,494.57 L119.55,494.12 L121.29,493.75 L123.06,493.46 L124.86,493.24 L126.68,493.09 L128.52,493.03 L130.39,493.04 L132.28,493.12 L134.19,493.29 L136.12,493.52 L138.07,493.84 L140.03,494.23 L142,494.7 L143.99,495.24 L145.99,495.85 L147.99,496.54 L150,497.3 L152.02,498.14 L154.05,499.05 L156.07,500.03 L158.1,501.08 L160.12,502.2 L162.15,503.39 L164.17,504.65 L166.18,505.97 L168.19,507.37 L170.19,508.82 L172.18,510.34 L174.16,511.93 L176.12,513.57 L178.07,515.28 L180,517.04 L181.92,518.86 L183.82,520.74 L185.69,522.67 L187.54,524.66 L189.37,526.69 L191.18,528.78 L192.95,530.91 L194.7,533.1 L196.42,535.32 L198.11,537.59 L199.77,539.9 L201.4,542.25 L202.98,544.64 L204.54,547.06 L206.05,549.52 L207.53,552.01 L208.97,554.53 L210.37,557.07 L211.73,559.65 L213.04,562.24 L214.31,564.86 L215.53,567.5 L216.71,570.16 L217.85,572.83 L218.93,575.51 L219.97,578.21 L220.95,580.92 L221.89,583.63 L222.78,586.35 L223.61,589.07 L224.4,591.79 L225.13,594.51 L225.8,597.23 L226.43,599.94 L226.99,602.65 L227.51,605.34 L227.97,608.02 L228.37,610.69 L228.72,613.34 L229.01,615.98 L229.24,618.59 L229.42,621.18 L229.54,623.75 L229.61,626.29 L229.62,628.8 L229.57,631.28 L229.46,633.73 L229.3,636.14 L229.08,638.52 L228.81,640.86 L228.47,643.16 L228.09,645.42 L227.64,647.63 L227.14,649.8 L226.59,651.93 L225.98,654 L225.32,656.02 L224.61,657.99 L223.84,659.91 L223.02,661.78 L222.15,663.58 L221.22,665.33 L220.25,667.02 L219.23,668.65 L218.15,670.22 L217.04,671.72 L215.87,673.16 L214.66,674.54 L213.4,675.84 L212.1,677.09 L210.75,678.26 L209.37,679.36 L207.94,680.39 L206.47,681.35 L204.97,682.24 L203.42,683.06" fill="none" stroke="#1e1e1e" stroke-width="1.3" />
<text transform="matrix(3.05 -1.63 2.61 5.14 118 512.46)" x="0" y="0" font-family="Liberation Sans" font-size="3.0" text-anchor="middle" fill="none" stroke="#1e1e1e" stroke-width="0.2222222222222222">V</text>
<text transform="matrix(3.35 -0.99 2.22 5.3 123.91 510.04)" x="0" y="0" font-family="Liberation Sans" font-size="3.0" text-anchor="middle" fill="none" stroke="#1e1e1e" stroke-width="0.2222222222222222">O</text>
<text transform="matrix(3.62 4.03 -1.73 3.58 183.46 536.06)" x="0" y="0" font-family="Liberation Sans" font-size="3.0" text-anchor="middle" fill="none" stroke="#1e1e1e" stroke-width="0.2222222222222222">O</text>
<text transform="matrix(3.39 4.44 -2.16 3.06 189.93 543.88)" x="0" y="0" font-family="Liberation Sans" font-size="3.0" text-anchor="middle" fill="none" stroke="#1e1e1e" stroke-width="0.2222222222222222">I</text>
<text transform="matrix(3.14 4.74 -2.5 2.58 195.1 551.15)" x="0" y="0" font-family="Liberation Sans" font-size="3.0" text-anchor="middle" fill="none" stroke="#1e1e1e" stroke-width="0.2222222222222222">N</text>
<text transform="matrix(2.76 5.05 -2.91 1.89 201.33 561.48)" x="0" y="0" font-family="Liberation Sans" font-size="3.0" text-anchor="middle" fill="none" stroke="#1e1e1e" stroke-width="0.2222222222222222">T</text>
<path d="M210.98,576.65 L217.19,597.14" fill="none" stroke="#1e1e1e" stroke-width="1.3" />
<path d="M218.85,591.66 L217.67,598.76 L212.25,591.84" fill="none" stroke="#1e1e1e" stroke-width="1.3" />
<path d="M222.43,613.45 L222.98,626.63 L213.09,615.63 Z" fill="none" stroke="#1e1e1e" stroke-width="1.2" />
<path d="M125.81,483.79 L125.89,481.8 L126.13,479.74 L126.52,477.64 L127.07,475.53 L127.77,473.42 L128.61,471.33 L129.58,469.28 L130.68,467.3 L131.88,465.4 L133.19,463.6 L134.59,461.93 L136.06,460.38 L137.59,458.99 L139.17,457.76 L140.77,456.7 L142.4,455.83 L144.01,455.16 L145.62,454.69 L147.19,454.42 L148.71,454.36 L150.16,454.51 L151.54,454.87 L152.83,455.43 L197.07,478.58 L195.78,478.02 L194.4,477.67 L192.94,477.52 L191.42,477.57 L189.85,477.84 L188.25,478.31 L186.63,478.99 L185.01,479.86 L183.4,480.91 L181.83,482.14 L180.29,483.53 L178.82,485.08 L177.43,486.76 L176.12,488.56 L174.91,490.45 L173.82,492.44 L172.84,494.48 L172.01,496.57 L171.31,498.68 L170.76,500.8 L170.36,502.89 L170.12,504.95 L170.04,506.95 Z" fill="#fff" stroke="#1e1e1e" stroke-width="1.3" />
<path d="M125.81,483.79 L170.04,506.95 L170.04,537.74 L125.81,514.58 Z" fill="#fff" stroke="#1e1e1e" stroke-width="1.3" />
<path d="M173.75,539.5 L173.75,492.6 L173.82,491.26 L174.04,489.95 L174.4,488.66 L174.89,487.41 L175.52,486.23 L176.27,485.13 L177.13,484.11 L178.1,483.19 L179.17,482.38 L180.32,481.69 L181.53,481.13 L182.8,480.7 L184.1,480.41 L185.43,480.27 L186.77,480.27 L188.1,480.41 L189.4,480.7 L190.67,481.13 L191.88,481.69 L193.03,482.38 L194.1,483.19 L195.07,484.11 L195.93,485.13 L196.68,486.23 L197.31,487.41 L197.8,488.66 L198.16,489.95 L198.38,491.26 L198.45,492.6 L198.45,508.5" fill="none" stroke="#1e1e1e" stroke-width="4.6" />
<path d="M173.75,539.5 L173.75,492.6 L173.82,491.26 L174.04,489.95 L174.4,488.66 L174.89,487.41 L175.52,486.23 L176.27,485.13 L177.13,484.11 L178.1,483.19 L179.17,482.38 L180.32,481.69 L181.53,481.13 L182.8,480.7 L184.1,480.41 L185.43,480.27 L186.77,480.27 L188.1,480.41 L189.4,480.7 L190.67,481.13 L191.88,481.69 L193.03,482.38 L194.1,483.19 L195.07,484.11 L195.93,485.13 L196.68,486.23 L197.31,487.41 L197.8,488.66 L198.16,489.95 L198.38,491.26 L198.45,492.6 L198.45,508.5" fill="none" stroke="#fff" stroke-width="2.0" />
<path d="M115.7,656.5 C111,668 110,690 117,701 C123,711 131,717 139,717 C146,716 152,708 155,700 L159.8,680.4 L156.6,676.7 Z" fill="#fff" stroke="#1e1e1e" stroke-width="1.3" />
<path d="M157.5,679 C156,690 154,700 147,715" fill="none" stroke="#1e1e1e" stroke-width="0.9" />
<path d="M177.17,675.35 L175.57,676.09 L173.92,676.75 L172.23,677.31 L170.51,677.77 L168.74,678.15 L166.95,678.42 L165.11,678.61 L163.25,678.69 L161.36,678.69 L159.44,678.59 L157.5,678.39 L155.54,676.18 L153.56,675.2 L151.56,674.21 L149.55,673.22 L147.52,672.22 L145.48,671.21 L143.44,670.2 L141.39,669.19 L139.34,668.18 L137.29,667.16 L135.24,666.15 L133.2,665.14 L131.16,664.14 L129.14,663.14 L127.12,662.14 L125.12,661.15 L123.14,660.18 L121.18,659.21 L119.24,657.57 L117.32,655.67 L115.43,653.7 L113.56,651.67 L111.73,649.57 L109.93,647.41 L108.17,645.19 L106.44,642.92 L104.75,640.6 L103.1,638.23 L101.5,635.81 L99.94,633.34 L98.43,630.84 L96.96,628.29 L95.55,625.71 L94.19,623.1 L92.88,620.47 L91.63,617.8 L90.43,615.11 L89.3,612.41 L88.22,609.68 L87.2,606.95 L86.25,604.2 L85.36,601.45 L84.53,598.7 L83.77,595.94 L83.07,593.19 L82.45,590.45 L81.89,587.71 L81.39,584.99 L80.97,582.29 L80.62,579.6 L80.33,576.94 L80.12,574.31 L79.98,571.7 L79.9,569.13 L79.9,566.59 L79.97,564.09 L80.11,561.63 L80.32,559.22 L80.6,556.85 L80.95,554.54 L81.37,552.27 L81.86,550.07 L82.42,547.92 L83.05,545.83 L83.74,543.8 L84.5,541.84 L85.32,539.95 L86.21,538.13 L87.16,536.38 L88.18,534.7 L89.25,533.11 L90.39,531.59 L91.58,530.15 L92.83,528.79 L94.13,527.52 L95.49,526.33 L96.9,525.22 L98.37,524.21 L99.88,523.28 L101.43,522.45 L115.39,515.63 L117,514.89 L118.64,514.24 L120.33,513.68 L122.06,513.21 L123.82,512.84 L125.62,512.56 L127.45,512.38 L129.31,512.29 L131.2,512.3 L133.12,512.4 L135.06,512.6 L137.02,512.89 L139.01,513.27 L141,513.75 L143.02,514.33 L145.04,514.99 L147.08,515.75 L149.12,516.6 L151.17,517.54 L153.22,518.57 L155.27,519.68 L157.32,520.88 L159.36,522.17 L161.4,523.54 L163.43,524.99 L165.44,526.52 L167.44,528.13 L169.42,529.82 L171.39,531.58 L173.33,533.41 L175.25,535.31 L177.14,537.28 L179,539.32 L180.83,541.41 L182.63,543.57 L184.4,545.79 L186.13,548.06 L187.81,550.38 L189.46,552.76 L191.07,555.18 L192.63,557.64 L194.14,560.15 L195.6,562.69 L197.01,565.27 L198.38,567.88 L199.68,570.52 L200.93,573.18 L202.13,575.87 L203.27,578.58 L204.34,581.3 L205.36,584.04 L206.31,586.78 L207.21,589.53 L208.03,592.29 L208.79,595.04 L209.49,597.79 L210.12,600.54 L210.68,603.27 L211.17,605.99 L211.59,608.7 L211.95,611.38 L212.23,614.04 L212.44,616.68 L212.59,619.28 L212.66,621.86 L212.66,624.39 L212.59,626.89 L212.45,629.35 L212.24,631.76 L211.96,634.13 L211.61,636.45 L211.19,638.71 L210.7,640.92 L210.14,643.07 L209.52,645.16 L208.82,647.18 L208.06,649.14 L207.24,651.03 L206.35,652.86 L205.4,654.6 L204.39,656.28 L203.31,657.88 L202.18,659.4 L200.98,660.84 L199.73,662.19 L198.43,663.47 L197.07,664.66 L195.66,665.76 L194.2,666.77 L192.69,667.7 L191.13,668.54 Z" fill="#fff" stroke="#1e1e1e" stroke-width="1.3" />
<path d="M101.43,522.45 L103.04,521.7 L104.68,521.05 L106.37,520.49 L108.1,520.02 L109.86,519.65 L111.66,519.37 L113.49,519.19 L115.35,519.1 L117.24,519.11 L119.16,519.21 L121.1,519.41 L123.06,519.7 L125.04,520.09 L127.04,520.57 L129.06,521.14 L131.08,521.81 L133.12,522.57 L135.16,523.41 L137.21,524.35 L139.26,525.38 L141.31,526.5 L143.36,527.7 L145.4,528.98 L147.44,530.35 L149.47,531.81 L151.48,533.34 L153.48,534.95 L155.46,536.63 L157.43,538.39 L159.37,540.22 L161.29,542.13 L163.18,544.1 L165.04,546.13 L166.87,548.23 L168.67,550.39 L170.44,552.6 L172.17,554.87 L173.85,557.2 L175.5,559.57 L177.11,561.99 L178.67,564.46 L180.18,566.96 L181.64,569.5 L183.05,572.08 L184.42,574.69 L185.72,577.33 L186.97,580 L188.17,582.68 L189.31,585.39 L190.38,588.11 L191.4,590.85 L192.35,593.59 L193.25,596.35 L194.07,599.1 L194.83,601.86 L195.53,604.61 L196.16,607.35 L196.72,610.08 L197.21,612.81 L197.63,615.51 L197.99,618.19 L198.27,620.85 L198.48,623.49 L198.63,626.1 L198.7,628.67 L198.7,631.21 L198.63,633.71 L198.49,636.16 L198.28,638.58 L198,640.94 L197.65,643.26 L197.23,645.52 L196.74,647.73 L196.18,649.88 L195.56,651.97 L194.86,654 L194.1,655.96 L193.28,657.85 L192.39,659.67 L191.44,661.42 L190.43,663.09 L189.35,664.69 L188.22,666.21 L187.02,667.65 L185.77,669.01 L184.47,670.28 L183.11,671.47 L181.7,672.57 L180.24,673.59 L178.73,674.51 L177.17,675.35" fill="none" stroke="#1e1e1e" stroke-width="1.0" />
<path d="M194.67,629.12 L194.65,630.95 L194.59,632.76 L194.49,634.55 L194.35,636.31 L194.18,638.05 L193.96,639.76 L193.71,641.44 L193.42,643.09 L193.09,644.71 L192.72,646.3 L192.32,647.86 L191.87,649.39 L191.39,650.88 L190.88,652.33 L190.32,653.75 L189.73,655.13 L189.11,656.48 L188.45,657.78 L187.75,659.04 L187.02,660.27 L186.26,661.45 L185.46,662.58 L184.63,663.68 L183.77,664.73 L182.88,665.73 L181.95,666.69 L181,667.6 L180.01,668.47 L179,669.28 L177.96,670.05 L176.89,670.77 L175.79,671.44 L174.67,672.07 L173.52,672.64 L172.35,673.16 L171.16,673.63 L169.94,674.05 L168.7,674.41 L167.44,674.73 L166.15,674.99 L164.85,675.2 L163.53,675.36 L162.19,675.47 L160.84,675.52 L159.47,675.52 L158.09,675.47 L156.69,675.37 L155.28,675.21 L153.85,675 L152.42,674.63 L150.97,673.92 L149.52,673.2 L148.06,672.48 L146.59,671.76 L145.12,671.03 L143.64,670.3 L142.16,669.57 L140.67,668.83 L139.19,668.1 L137.7,667.36 L136.21,666.63 L134.72,665.9 L133.24,665.16 L131.76,664.43 L130.28,663.7 L128.81,662.98 L127.35,662.25 L125.89,661.51 L124.44,660.33 L123,659.11 L121.57,657.85 L120.16,656.54 L118.75,655.2 L117.36,653.82 L115.98,652.41 L114.62,650.95 L113.27,649.46 L111.95,647.94 L110.63,646.38 L109.34,644.79 L108.07,643.17 L106.82,641.52 L105.59,639.84 L104.38,638.13 L103.2,636.4 L102.04,634.64 L100.9,632.86 L99.8,631.05 L98.71,629.22 L97.66,627.37 L96.63,625.5 L95.63,623.61 L94.66,621.71 L93.72,619.79 L92.81,617.86 L91.93,615.91 L91.09,613.95 L90.28,611.99 L89.49,610.01 L88.75,608.03 L88.04,606.04 L87.36,604.05 L86.71,602.05 L86.11,600.05 L85.54,598.05 L85,596.05 L84.5,594.06 L84.04,592.07 L83.62,590.08 L83.23,588.1 L82.88,586.13 L82.57,584.17 L82.3,582.21 L82.06,580.27 L81.87,578.35 L81.71,576.43 L81.59,574.54 L81.52,572.66 L81.48,570.8 L81.48,568.96 L81.52,567.14 L81.59,565.34 L81.71,563.57 L81.87,561.82 L82.06,560.1 L82.3,558.4 L82.57,556.73 L82.88,555.1 L83.23,553.49 L83.62,551.91 L84.04,550.37 L84.5,548.86 L85,547.39 L85.54,545.95 L86.11,544.55 L86.71,543.19 L87.36,541.87 L88.04,540.58 L88.75,539.34 L89.49,538.14 L90.28,536.98 L91.09,535.86 L91.93,534.79 L92.81,533.77 L93.72,532.78 L94.66,531.85 L95.63,530.96 L96.63,530.12 L97.66,529.33 L98.71,528.58 L99.8,527.88 L100.9,527.24 L102.04,526.64 L103.2,526.1 L104.38,525.6 L105.59,525.16 L106.82,524.76 L108.07,524.42 L109.34,524.13 L110.63,523.9 L111.95,523.71 L113.27,523.58 L114.62,523.5 L115.98,523.47 L117.36,523.5 L118.75,523.57 L120.16,523.7 L121.57,523.89 L123,524.12 L124.44,524.41 L125.89,524.74 L127.35,525.14 L128.81,525.58 L130.28,526.07 L131.76,526.61 L133.24,527.21 L134.72,527.85 L136.21,528.54 L137.7,529.29 L139.19,530.08 L140.67,530.92 L142.16,531.8 L143.64,532.74 L145.12,533.71 L146.59,534.74 L148.06,535.81 L149.52,536.92 L150.97,538.08 L152.42,539.28 L153.85,540.52 L155.28,541.8 L156.69,543.12 L158.09,544.48 L159.47,545.88 L160.84,547.32 L162.19,548.79 L163.53,550.29 L164.85,551.83 L166.15,553.41 L167.44,555.01 L168.7,556.65 L169.94,558.31 L171.16,560.01 L172.35,561.73 L173.52,563.48 L174.67,565.25 L175.79,567.05 L176.89,568.86 L177.96,570.7 L179,572.56 L180.01,574.44 L181,576.34 L181.95,578.25 L182.88,580.18 L183.77,582.11 L184.63,584.07 L185.46,586.03 L186.26,588 L187.02,589.98 L187.75,591.97 L188.45,593.96 L189.11,595.95 L189.73,597.95 L190.32,599.95 L190.88,601.95 L191.39,603.94 L191.87,605.94 L192.32,607.93 L192.72,609.91 L193.09,611.89 L193.42,613.85 L193.71,615.81 L193.96,617.76 L194.18,619.69 L194.35,621.61 L194.49,623.52 L194.59,625.4 L194.65,627.27 L194.67,629.12 Z" fill="#fff" stroke="#1e1e1e" stroke-width="1.3" />
<path d="M170.98,619.21 L170.96,620.92 L170.87,622.6 L170.74,624.25 L170.54,625.86 L170.3,627.43 L170,628.96 L169.64,630.44 L169.23,631.88 L168.77,633.27 L168.26,634.61 L167.7,635.9 L167.09,637.13 L166.43,638.3 L165.72,639.42 L164.96,640.47 L164.16,641.46 L163.31,642.39 L162.42,643.26 L161.49,644.05 L160.52,644.78 L159.5,645.45 L158.46,646.04 L157.37,646.56 L156.25,647.01 L155.1,647.38 L153.92,647.69 L152.72,647.92 L151.48,648.08 L150.22,648.16 L148.94,648.17 L147.63,648.1 L146.31,647.96 L144.97,647.75 L143.62,647.46 L142.25,647.11 L140.88,646.67 L139.49,646.17 L138.1,645.6 L136.71,644.95 L135.31,644.24 L133.92,643.46 L132.53,642.61 L131.14,641.7 L129.76,640.72 L128.39,639.68 L127.03,638.58 L125.68,637.42 L124.35,636.2 L123.04,634.93 L121.74,633.6 L120.47,632.22 L119.22,630.8 L118,629.32 L116.81,627.81 L115.64,626.25 L114.51,624.65 L113.4,623.01 L112.34,621.34 L111.31,619.63 L110.32,617.9 L109.36,616.14 L108.45,614.35 L107.58,612.54 L106.76,610.72 L105.98,608.88 L105.25,607.03 L104.56,605.16 L103.92,603.29 L103.34,601.42 L102.8,599.54 L102.31,597.67 L101.88,595.8 L101.5,593.94 L101.17,592.09 L100.9,590.26 L100.68,588.44 L100.51,586.63 L100.4,584.85 L100.35,583.1 L100.35,581.37 L100.4,579.68 L100.51,578.01 L100.68,576.39 L100.9,574.79 L101.17,573.25 L101.5,571.74 L101.88,570.28 L102.31,568.86 L102.8,567.5 L103.34,566.19 L103.92,564.93 L104.56,563.72 L105.25,562.58 L105.98,561.49 L106.76,560.47 L107.58,559.51 L108.45,558.61 L109.36,557.78 L110.32,557.02 L111.31,556.32 L112.34,555.69 L113.4,555.14 L114.51,554.65 L115.64,554.24 L116.81,553.9 L118,553.63 L119.22,553.44 L120.47,553.32 L121.74,553.27 L123.04,553.3 L124.35,553.4 L125.68,553.58 L127.03,553.83 L128.39,554.15 L129.76,554.55 L131.14,555.01 L132.53,555.55 L133.92,556.16 L135.31,556.84 L136.71,557.59 L138.1,558.4 L139.49,559.28 L140.88,560.23 L142.25,561.24 L143.62,562.31 L144.97,563.44 L146.31,564.63 L147.63,565.87 L148.94,567.17 L150.22,568.53 L151.48,569.93 L152.72,571.38 L153.92,572.87 L155.1,574.41 L156.25,575.99 L157.37,577.61 L158.46,579.27 L159.5,580.96 L160.52,582.68 L161.49,584.43 L162.42,586.2 L163.31,588 L164.16,589.81 L164.96,591.64 L165.72,593.49 L166.43,595.35 L167.09,597.22 L167.7,599.09 L168.26,600.96 L168.77,602.84 L169.23,604.71 L169.64,606.57 L170,608.43 L170.3,610.27 L170.54,612.1 L170.74,613.91 L170.87,615.7 L170.96,617.47 L170.98,619.21 Z" fill="none" stroke="#1e1e1e" stroke-width="1.1" />
<path d="M169.58,618.48 L169.55,620.12 L169.47,621.73 L169.34,623.31 L169.16,624.86 L168.92,626.37 L168.63,627.84 L168.29,629.26 L167.9,630.64 L167.46,631.98 L166.97,633.26 L166.43,634.5 L165.84,635.68 L165.2,636.81 L164.52,637.88 L163.79,638.89 L163.02,639.84 L162.21,640.74 L161.36,641.57 L160.46,642.33 L159.53,643.03 L158.56,643.67 L157.55,644.24 L156.51,644.74 L155.44,645.17 L154.33,645.53 L153.2,645.82 L152.04,646.04 L150.85,646.19 L149.64,646.27 L148.41,646.28 L147.16,646.22 L145.89,646.09 L144.6,645.88 L143.3,645.61 L141.99,645.26 L140.67,644.85 L139.34,644.36 L138.01,643.81 L136.67,643.19 L135.33,642.51 L133.99,641.76 L132.65,640.94 L131.32,640.07 L129.99,639.13 L128.68,638.13 L127.37,637.07 L126.08,635.96 L124.8,634.79 L123.54,633.57 L122.3,632.29 L121.07,630.97 L119.88,629.6 L118.7,628.19 L117.56,626.73 L116.44,625.23 L115.35,623.69 L114.29,622.12 L113.27,620.52 L112.28,618.88 L111.32,617.21 L110.41,615.52 L109.54,613.81 L108.7,612.07 L107.91,610.32 L107.16,608.55 L106.46,606.78 L105.8,604.99 L105.19,603.19 L104.62,601.39 L104.11,599.59 L103.64,597.79 L103.22,596 L102.86,594.21 L102.54,592.44 L102.28,590.67 L102.07,588.92 L101.91,587.19 L101.8,585.49 L101.75,583.8 L101.75,582.14 L101.8,580.51 L101.91,578.92 L102.07,577.35 L102.28,575.83 L102.54,574.34 L102.86,572.89 L103.22,571.49 L103.64,570.13 L104.11,568.82 L104.62,567.56 L105.19,566.35 L105.8,565.2 L106.46,564.1 L107.16,563.05 L107.91,562.07 L108.7,561.15 L109.54,560.29 L110.41,559.49 L111.32,558.76 L112.28,558.09 L113.27,557.49 L114.29,556.95 L115.35,556.49 L116.44,556.09 L117.56,555.76 L118.7,555.5 L119.88,555.32 L121.07,555.2 L122.3,555.16 L123.54,555.19 L124.8,555.28 L126.08,555.45 L127.37,555.69 L128.68,556 L129.99,556.38 L131.32,556.83 L132.65,557.35 L133.99,557.93 L135.33,558.59 L136.67,559.3 L138.01,560.09 L139.34,560.93 L140.67,561.84 L141.99,562.81 L143.3,563.84 L144.6,564.92 L145.89,566.06 L147.16,567.26 L148.41,568.51 L149.64,569.81 L150.85,571.15 L152.04,572.55 L153.2,573.98 L154.33,575.46 L155.44,576.98 L156.51,578.53 L157.55,580.12 L158.56,581.74 L159.53,583.4 L160.46,585.07 L161.36,586.78 L162.21,588.5 L163.02,590.24 L163.79,592 L164.52,593.78 L165.2,595.56 L165.84,597.36 L166.43,599.15 L166.97,600.95 L167.46,602.75 L167.9,604.55 L168.29,606.34 L168.63,608.12 L168.92,609.89 L169.16,611.65 L169.34,613.39 L169.47,615.11 L169.55,616.8 L169.58,618.48 Z" fill="none" stroke="#1e1e1e" stroke-width="0.9" />
<path transform="matrix(4.01 2.1 0 4.97 138.07 599.5)" d="M-7.27,-0.41 L-5.87,-1.28 L-5.87,4.66 M-3.31,0.74 C-3.0,-0.9 -1.1,-1.7 0,-0.9 C0.9,-0.2 0.7,1.0 -0.1,1.9 L-3.41,4.62 L0.6,4.62 M1.25,-1.19 L3.47,4.47 L6.04,-1.51" fill="none" stroke="#1e1e1e" stroke-width="1.0" stroke-linejoin="round" stroke-linecap="round"/>
<path transform="matrix(4.01 2.1 0 4.97 138.07 599.5)" d="M-7.27,-0.41 L-5.87,-1.28 L-5.87,4.66 M-3.31,0.74 C-3.0,-0.9 -1.1,-1.7 0,-0.9 C0.9,-0.2 0.7,1.0 -0.1,1.9 L-3.41,4.62 L0.6,4.62 M1.25,-1.19 L3.47,4.47 L6.04,-1.51" fill="none" stroke="#fff" stroke-width="0.34" stroke-linejoin="round" stroke-linecap="round"/>
<path d="M198.8,33.2 L203.6,33.2 L199.1,43.6 L196.4,43.6 Z M207.8,33.2 L212.6,33.2 L208.1,43.6 L205.4,43.6 Z" fill="#000" stroke="none"/>
</svg>

</body></html>
